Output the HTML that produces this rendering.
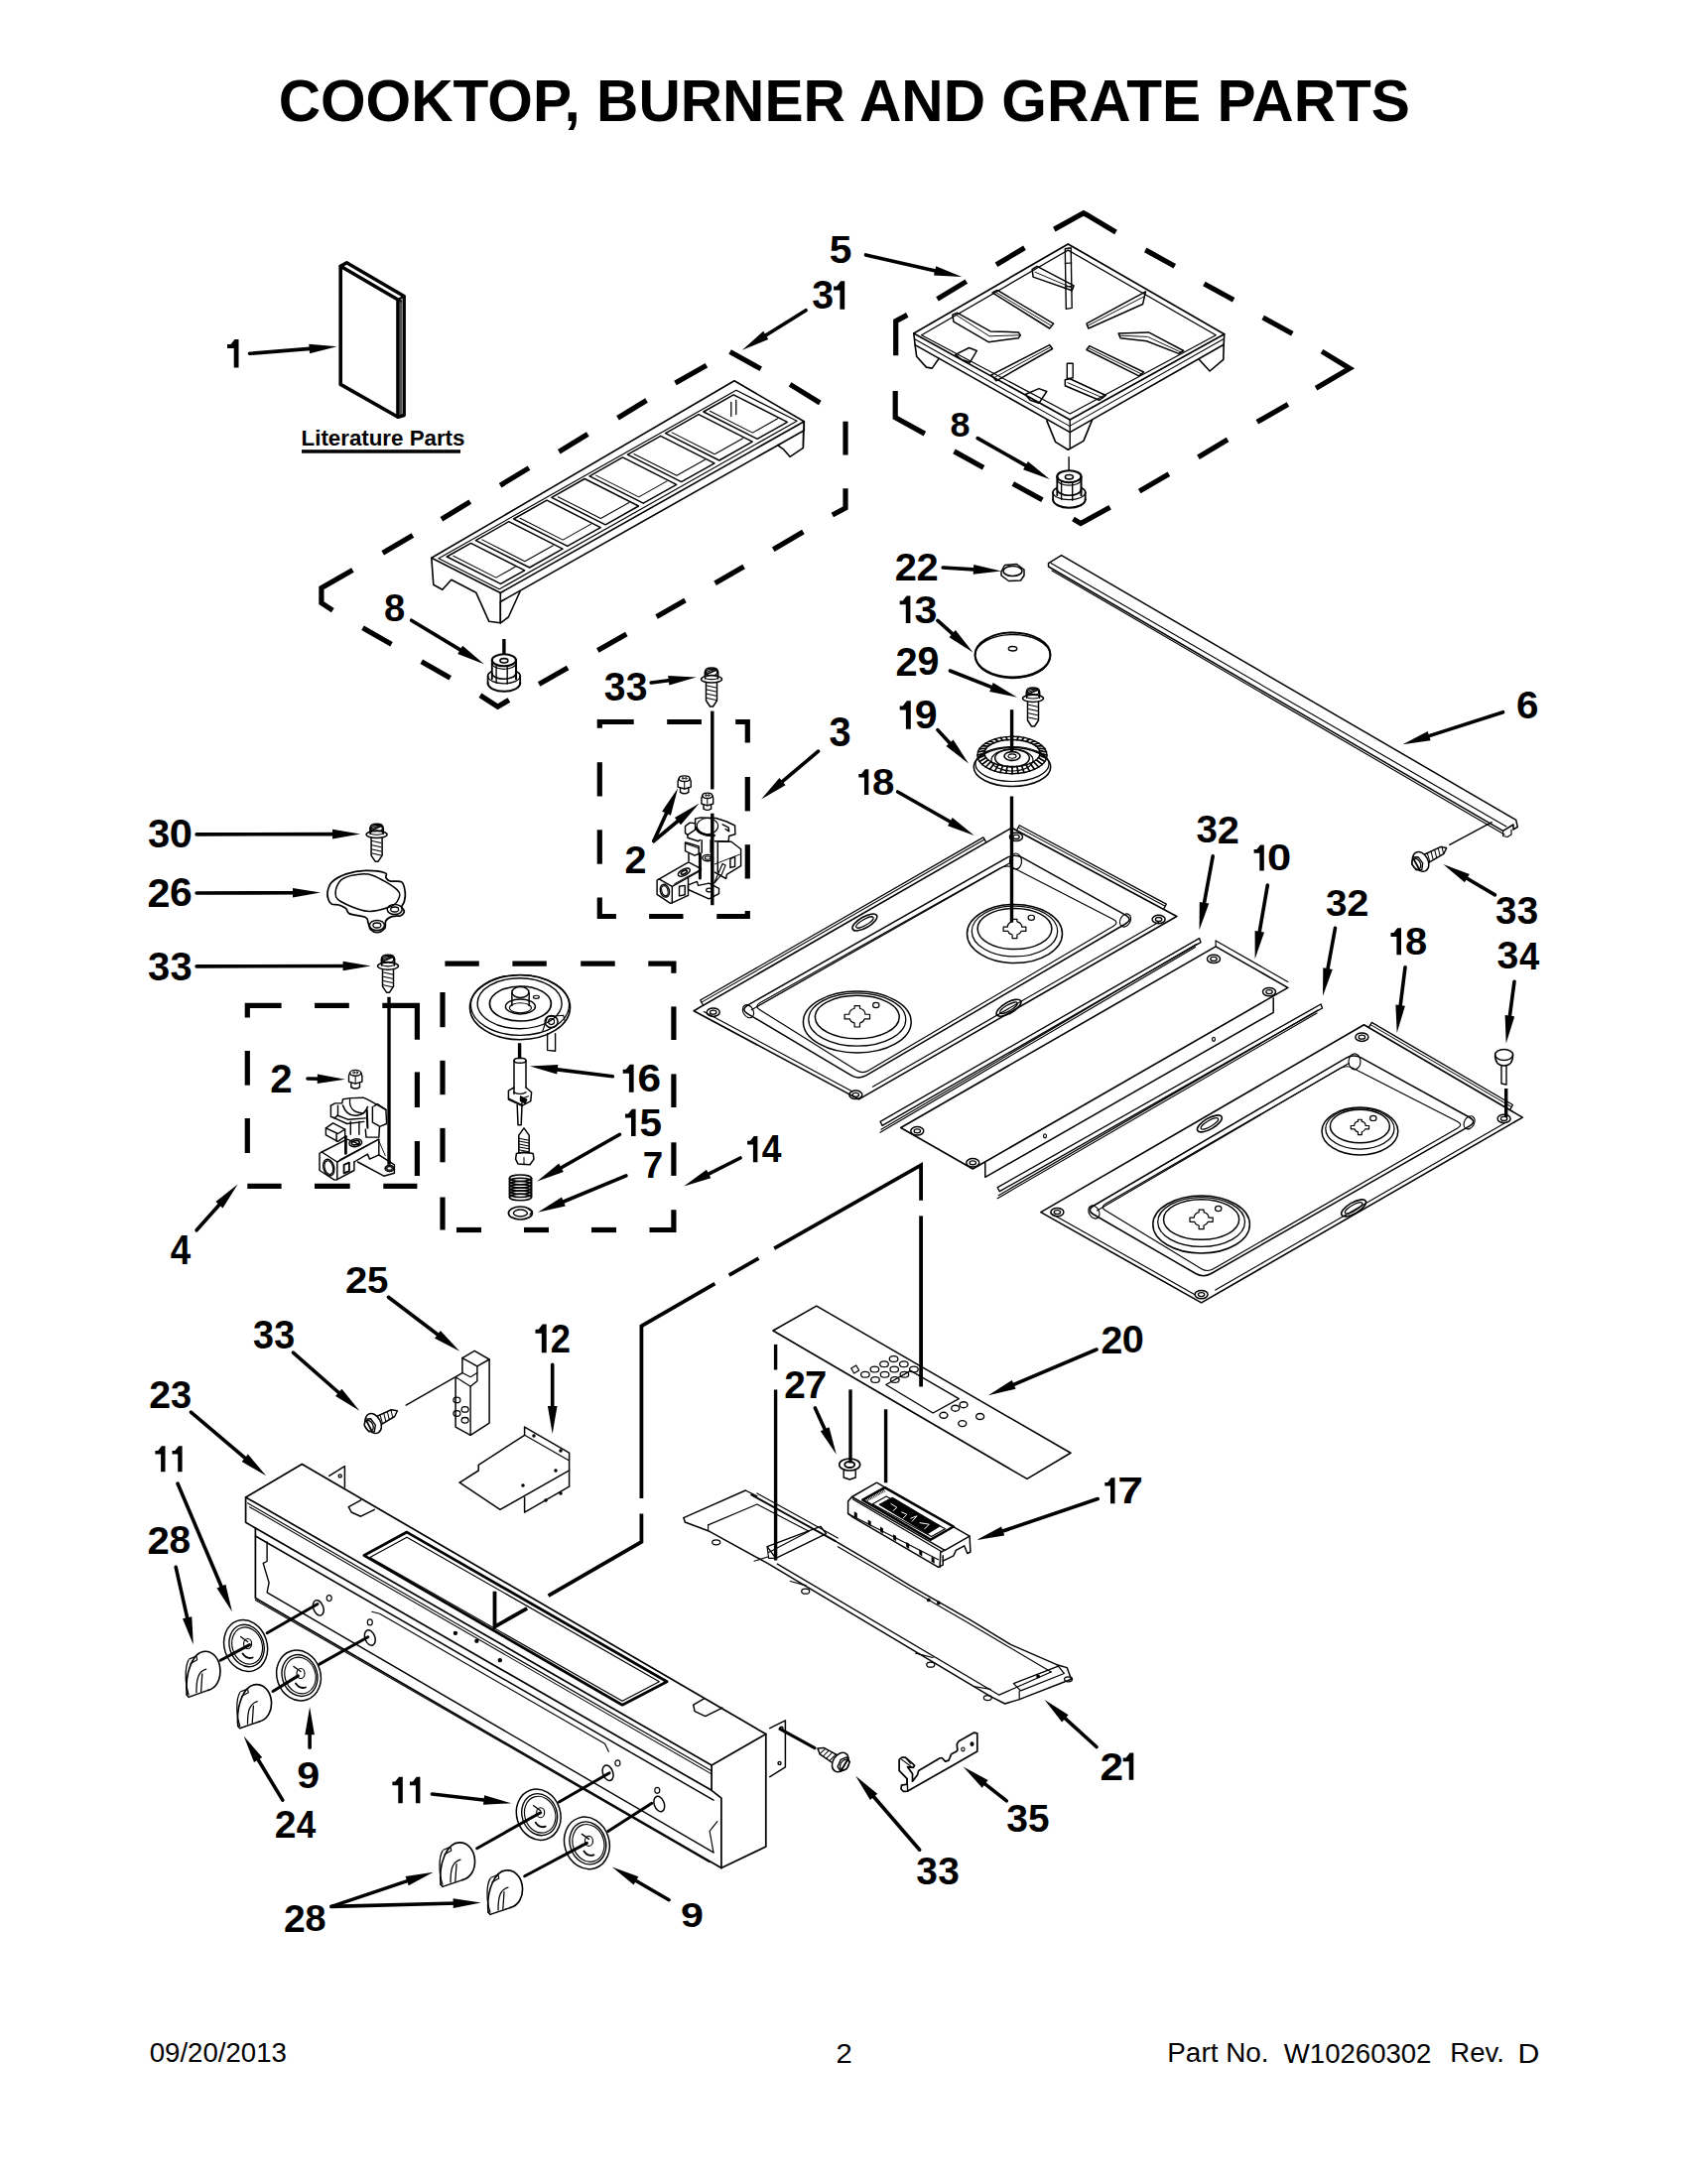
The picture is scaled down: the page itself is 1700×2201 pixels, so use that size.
<!DOCTYPE html>
<html><head><meta charset="utf-8"><style>
html,body{margin:0;padding:0;background:#fff;}
svg{display:block;}
text{font-family:"Liberation Sans",sans-serif;fill:#000;stroke:none;}
</style></head><body>
<svg width="1700" height="2201" viewBox="0 0 1700 2201">
<rect width="1700" height="2201" fill="#fff"/>
<g stroke="#000" fill="none" stroke-linejoin="round" stroke-linecap="round">
<text transform="matrix(0.58647 0 0 0.59649 280.65 122.25)" font-size="100" font-weight="bold">COOKTOP, BURNER AND GRATE PARTS</text>
<text transform="matrix(0.27622 0 0 0.26803 150.70 2078.33)" font-size="100" >09/20/2013</text>
<text transform="matrix(0.29231 0 0 0.28429 842.44 2078.90)" font-size="100" >2</text>
<text transform="matrix(0.27897 0 0 0.28000 1176.27 2078.32)" font-size="100" >Part No.</text>
<text transform="matrix(0.27554 0 0 0.28028 1293.86 2078.62)" font-size="100" >W10260302</text>
<text transform="matrix(0.27514 0 0 0.28000 1461.30 2078.32)" font-size="100" >Rev.</text>
<text transform="matrix(0.30252 0 0 0.28406 1529.58 2078.60)" font-size="100" >D</text>
<text transform="matrix(0.22320 0 0 0.22449 303.55 448.98)" font-size="100" font-weight="bold">Literature Parts</text>
<rect x="304" y="453.2" width="160" height="3.5" fill="#000" stroke="none"/>
<polygon points="236.5,342.0 240.5,342.0 240.5,370.5 235.7,370.5 235.7,351.1 229.0,351.1 229.0,347.1 232.5,347.1" fill="#000" stroke="none"/>
<text transform="matrix(0.39313 0 0 0.40141 818.22 311.40)" font-size="100" font-weight="bold">3</text>
<polygon points="847.2,283.3 851.2,283.3 851.2,311.8 846.4,311.8 846.4,292.4 840.1,292.4 840.1,288.4 843.2,288.4" fill="#000" stroke="none"/>
<text transform="matrix(0.40800 0 0 0.39429 835.68 264.51)" font-size="100" font-weight="bold">5</text>
<text transform="matrix(0.35960 0 0 0.35493 957.42 439.75)" font-size="100" font-weight="bold">8</text>
<text transform="matrix(0.38182 0 0 0.39014 387.05 626.11)" font-size="100" font-weight="bold">8</text>
<text transform="matrix(0.39117 0 0 0.41127 608.72 705.79)" font-size="100" font-weight="bold">3</text>
<text transform="matrix(0.39117 0 0 0.41127 630.86 705.79)" font-size="100" font-weight="bold">3</text>
<text transform="matrix(0.39873 0 0 0.39429 901.70 584.50)" font-size="100" font-weight="bold">2</text>
<text transform="matrix(0.39873 0 0 0.39429 923.47 584.50)" font-size="100" font-weight="bold">2</text>
<polygon points="913.6,600.5 917.4,600.5 917.4,628.0 912.8,628.0 912.8,609.3 906.7,609.3 906.7,605.5 909.7,605.5" fill="#000" stroke="none"/>
<text transform="matrix(0.41313 0 0 0.38732 921.62 627.61)" font-size="100" font-weight="bold">3</text>
<text transform="matrix(0.39784 0 0 0.40714 902.61 680.50)" font-size="100" font-weight="bold">2</text>
<text transform="matrix(0.39374 0 0 0.40141 924.43 680.10)" font-size="100" font-weight="bold">9</text>
<polygon points="913.8,706.3 917.8,706.3 917.8,734.7 912.9,734.7 912.9,715.4 906.7,715.4 906.7,711.4 909.8,711.4" fill="#000" stroke="none"/>
<text transform="matrix(0.41089 0 0 0.40000 921.73 734.30)" font-size="100" font-weight="bold">9</text>
<polygon points="871.7,775.3 875.3,775.3 875.3,801.0 871.0,801.0 871.0,783.5 865.3,783.5 865.3,779.9 868.1,779.9" fill="#000" stroke="none"/>
<text transform="matrix(0.40190 0 0 0.36197 879.00 800.64)" font-size="100" font-weight="bold">8</text>
<text transform="matrix(0.39798 0 0 0.42535 835.61 752.27)" font-size="100" font-weight="bold">3</text>
<text transform="matrix(0.40412 0 0 0.39014 1527.89 723.81)" font-size="100" font-weight="bold">6</text>
<text transform="matrix(0.38645 0 0 0.39155 1507.03 930.91)" font-size="100" font-weight="bold">3</text>
<text transform="matrix(0.38645 0 0 0.39155 1528.80 930.91)" font-size="100" font-weight="bold">3</text>
<text transform="matrix(0.38554 0 0 0.39014 1205.54 849.31)" font-size="100" font-weight="bold">3</text>
<text transform="matrix(0.39759 0 0 0.39571 1226.82 849.70)" font-size="100" font-weight="bold">2</text>
<polygon points="1270.1,851.4 1273.8,851.4 1273.8,877.5 1269.3,877.5 1269.3,859.8 1263.6,859.8 1263.6,856.1 1266.5,856.1" fill="#000" stroke="none"/>
<text transform="matrix(0.43499 0 0 0.36761 1277.00 877.13)" font-size="100" font-weight="bold">0</text>
<text transform="matrix(0.38607 0 0 0.36761 1336.03 922.73)" font-size="100" font-weight="bold">3</text>
<text transform="matrix(0.39813 0 0 0.37286 1357.20 923.10)" font-size="100" font-weight="bold">2</text>
<polygon points="1408.2,935.3 1412.0,935.3 1412.0,962.2 1407.4,962.2 1407.4,943.9 1401.5,943.9 1401.5,940.1 1404.5,940.1" fill="#000" stroke="none"/>
<text transform="matrix(0.39794 0 0 0.37887 1415.91 961.82)" font-size="100" font-weight="bold">8</text>
<text transform="matrix(0.39328 0 0 0.38028 1508.42 976.42)" font-size="100" font-weight="bold">3</text>
<text transform="matrix(0.36388 0 0 0.39130 1530.89 976.80)" font-size="100" font-weight="bold">4</text>
<text transform="matrix(0.39992 0 0 0.40141 148.90 854.40)" font-size="100" font-weight="bold">3</text>
<text transform="matrix(0.41676 0 0 0.40141 170.74 854.40)" font-size="100" font-weight="bold">0</text>
<text transform="matrix(0.41252 0 0 0.40571 148.46 913.80)" font-size="100" font-weight="bold">2</text>
<text transform="matrix(0.40827 0 0 0.40000 170.97 913.40)" font-size="100" font-weight="bold">6</text>
<text transform="matrix(0.39992 0 0 0.40141 148.90 988.10)" font-size="100" font-weight="bold">3</text>
<text transform="matrix(0.39992 0 0 0.40141 171.40 988.10)" font-size="100" font-weight="bold">3</text>
<text transform="matrix(0.39583 0 0 0.39000 629.61 879.60)" font-size="100" font-weight="bold">2</text>
<text transform="matrix(0.40208 0 0 0.40286 272.29 1101.20)" font-size="100" font-weight="bold">2</text>
<polygon points="634.7,1072.8 638.6,1072.8 638.6,1100.8 633.9,1100.8 633.9,1081.8 627.7,1081.8 627.7,1077.8 630.8,1077.8" fill="#000" stroke="none"/>
<text transform="matrix(0.42392 0 0 0.39437 642.46 1100.41)" font-size="100" font-weight="bold">6</text>
<polygon points="636.8,1117.7 640.6,1117.7 640.6,1144.9 636.0,1144.9 636.0,1126.4 630.0,1126.4 630.0,1122.6 633.0,1122.6" fill="#000" stroke="none"/>
<text transform="matrix(0.40448 0 0 0.38857 644.56 1144.51)" font-size="100" font-weight="bold">5</text>
<text transform="matrix(0.36774 0 0 0.37101 647.65 1187.00)" font-size="100" font-weight="bold">7</text>
<polygon points="759.7,1145.0 763.4,1145.0 763.4,1171.3 758.9,1171.3 758.9,1153.4 753.1,1153.4 753.1,1149.7 756.0,1149.7" fill="#000" stroke="none"/>
<text transform="matrix(0.35413 0 0 0.38116 767.82 1171.30)" font-size="100" font-weight="bold">4</text>
<text transform="matrix(0.36636 0 0 0.42029 171.65 1274.00)" font-size="100" font-weight="bold">4</text>
<text transform="matrix(0.40041 0 0 0.37000 348.00 1303.20)" font-size="100" font-weight="bold">2</text>
<text transform="matrix(0.38440 0 0 0.37000 369.93 1302.83)" font-size="100" font-weight="bold">5</text>
<text transform="matrix(0.37751 0 0 0.40423 254.96 1358.70)" font-size="100" font-weight="bold">3</text>
<text transform="matrix(0.37751 0 0 0.40423 276.37 1358.70)" font-size="100" font-weight="bold">3</text>
<polygon points="546.7,1334.5 550.7,1334.5 550.7,1363.2 545.8,1363.2 545.8,1343.7 539.5,1343.7 539.5,1339.7 542.7,1339.7" fill="#000" stroke="none"/>
<text transform="matrix(0.36362 0 0 0.41000 554.87 1363.20)" font-size="100" font-weight="bold">2</text>
<text transform="matrix(0.39278 0 0 0.39000 150.13 1419.10)" font-size="100" font-weight="bold">2</text>
<text transform="matrix(0.38087 0 0 0.38451 171.99 1418.72)" font-size="100" font-weight="bold">3</text>
<polygon points="162.9,1457.3 166.5,1457.3 166.5,1483.2 162.1,1483.2 162.1,1465.6 156.4,1465.6 156.4,1462.0 159.2,1462.0" fill="#000" stroke="none"/>
<polygon points="180.0,1457.3 183.6,1457.3 183.6,1483.2 179.2,1483.2 179.2,1465.6 173.5,1465.6 173.5,1462.0 176.3,1462.0" fill="#000" stroke="none"/>
<text transform="matrix(0.40101 0 0 0.39143 148.40 1565.60)" font-size="100" font-weight="bold">2</text>
<text transform="matrix(0.38886 0 0 0.38592 170.48 1565.21)" font-size="100" font-weight="bold">8</text>
<text transform="matrix(0.38786 0 0 0.38571 790.24 1408.90)" font-size="100" font-weight="bold">2</text>
<text transform="matrix(0.40038 0 0 0.39130 810.98 1408.90)" font-size="100" font-weight="bold">7</text>
<text transform="matrix(0.39278 0 0 0.39000 1109.53 1363.50)" font-size="100" font-weight="bold">2</text>
<text transform="matrix(0.39691 0 0 0.38451 1130.76 1363.12)" font-size="100" font-weight="bold">0</text>
<polygon points="1119.8,1489.2 1123.5,1489.2 1123.5,1515.3 1119.0,1515.3 1119.0,1497.6 1113.3,1497.6 1113.3,1493.9 1116.2,1493.9" fill="#000" stroke="none"/>
<text transform="matrix(0.46370 0 0 0.37826 1126.35 1515.30)" font-size="100" font-weight="bold">7</text>
<text transform="matrix(0.41237 0 0 0.37606 299.26 1802.32)" font-size="100" font-weight="bold">9</text>
<text transform="matrix(0.39034 0 0 0.38000 276.63 1852.00)" font-size="100" font-weight="bold">2</text>
<text transform="matrix(0.35021 0 0 0.38551 298.74 1852.00)" font-size="100" font-weight="bold">4</text>
<polygon points="402.0,1790.7 405.8,1790.7 405.8,1817.3 401.3,1817.3 401.3,1799.2 395.4,1799.2 395.4,1795.5 398.3,1795.5" fill="#000" stroke="none"/>
<polygon points="419.7,1790.7 423.4,1790.7 423.4,1817.3 418.9,1817.3 418.9,1799.2 413.0,1799.2 413.0,1795.5 416.0,1795.5" fill="#000" stroke="none"/>
<text transform="matrix(0.42358 0 0 0.38857 1108.52 1793.70)" font-size="100" font-weight="bold">2</text>
<polygon points="1138.5,1766.5 1142.3,1766.5 1142.3,1793.7 1137.7,1793.7 1137.7,1775.2 1131.7,1775.2 1131.7,1771.4 1134.7,1771.4" fill="#000" stroke="none"/>
<text transform="matrix(0.39107 0 0 0.38310 1014.32 1845.72)" font-size="100" font-weight="bold">3</text>
<text transform="matrix(0.38716 0 0 0.38857 1036.08 1845.71)" font-size="100" font-weight="bold">5</text>
<text transform="matrix(0.38910 0 0 0.39718 923.23 1899.10)" font-size="100" font-weight="bold">3</text>
<text transform="matrix(0.38910 0 0 0.39718 945.17 1899.10)" font-size="100" font-weight="bold">3</text>
<text transform="matrix(0.39024 0 0 0.38143 285.93 1946.70)" font-size="100" font-weight="bold">2</text>
<text transform="matrix(0.37842 0 0 0.37606 307.43 1946.32)" font-size="100" font-weight="bold">8</text>
<text transform="matrix(0.41237 0 0 0.35634 685.96 1942.34)" font-size="100" font-weight="bold">9</text>
<line x1="251.6" y1="356.3" x2="315.7" y2="351.1" stroke-width="3.6"/>
<polygon points="339.6,349.2 312.1,356.2 311.3,346.7" fill="#000" stroke="none"/>
<line x1="812.1" y1="312.7" x2="768.4" y2="340.0" stroke-width="3.6"/>
<polygon points="748.0,352.7 769.2,333.8 774.3,341.9" fill="#000" stroke="none"/>
<line x1="872.5" y1="256.9" x2="946.0" y2="273.7" stroke-width="3.6"/>
<polygon points="969.4,279.1 941.0,277.5 943.2,268.2" fill="#000" stroke="none"/>
<line x1="985.2" y1="441.6" x2="1037.0" y2="471.1" stroke-width="3.6"/>
<polygon points="1057.8,483.0 1031.1,473.3 1035.9,465.0" fill="#000" stroke="none"/>
<line x1="414.6" y1="625.2" x2="467.1" y2="656.9" stroke-width="3.6"/>
<polygon points="487.7,669.3 461.2,658.9 466.2,650.7" fill="#000" stroke="none"/>
<line x1="656.2" y1="688.0" x2="677.8" y2="685.3" stroke-width="3.6"/>
<polygon points="701.6,682.4 674.4,690.6 673.2,681.1" fill="#000" stroke="none"/>
<line x1="950.2" y1="572.0" x2="984.9" y2="574.1" stroke-width="3.6"/>
<polygon points="1008.9,575.6 980.7,578.7 981.2,569.1" fill="#000" stroke="none"/>
<line x1="944.9" y1="625.4" x2="962.7" y2="641.4" stroke-width="3.6"/>
<polygon points="980.5,657.4 956.5,642.3 962.9,635.1" fill="#000" stroke="none"/>
<line x1="957.4" y1="676.0" x2="1002.7" y2="693.9" stroke-width="3.6"/>
<polygon points="1025.0,702.7 997.2,696.9 1000.7,687.9" fill="#000" stroke="none"/>
<line x1="944.9" y1="735.6" x2="959.7" y2="751.7" stroke-width="3.6"/>
<polygon points="976.0,769.4 953.5,752.0 960.6,745.5" fill="#000" stroke="none"/>
<line x1="904.6" y1="798.0" x2="960.8" y2="830.0" stroke-width="3.6"/>
<polygon points="981.7,841.9 955.0,832.2 959.7,823.9" fill="#000" stroke="none"/>
<line x1="824.5" y1="757.2" x2="785.4" y2="790.1" stroke-width="3.6"/>
<polygon points="767.1,805.6 785.4,783.9 791.6,791.2" fill="#000" stroke="none"/>
<line x1="1514.6" y1="717.7" x2="1436.3" y2="742.9" stroke-width="3.6"/>
<polygon points="1413.5,750.3 1438.7,737.1 1441.6,746.3" fill="#000" stroke="none"/>
<line x1="1506.5" y1="901.9" x2="1474.9" y2="883.2" stroke-width="3.6"/>
<polygon points="1454.3,870.9 1480.8,881.1 1475.9,889.3" fill="#000" stroke="none"/>
<line x1="1222.2" y1="862.8" x2="1212.8" y2="913.7" stroke-width="3.6"/>
<polygon points="1208.5,937.3 1208.8,908.9 1218.3,910.6" fill="#000" stroke="none"/>
<line x1="1277.3" y1="892.1" x2="1268.6" y2="942.7" stroke-width="3.6"/>
<polygon points="1264.6,966.4 1264.6,938.0 1274.0,939.6" fill="#000" stroke="none"/>
<line x1="1345.5" y1="935.3" x2="1337.3" y2="980.1" stroke-width="3.6"/>
<polygon points="1333.0,1003.7 1333.3,975.3 1342.8,977.0" fill="#000" stroke="none"/>
<line x1="1416.0" y1="974.7" x2="1410.7" y2="1017.2" stroke-width="3.6"/>
<polygon points="1407.7,1041.0 1406.4,1012.6 1415.9,1013.8" fill="#000" stroke="none"/>
<line x1="1526.0" y1="989.2" x2="1520.9" y2="1027.7" stroke-width="3.6"/>
<polygon points="1517.7,1051.5 1516.6,1023.1 1526.2,1024.4" fill="#000" stroke="none"/>
<line x1="198.1" y1="840.9" x2="339.0" y2="840.6" stroke-width="3.6"/>
<polygon points="363.0,840.5 335.0,845.4 335.0,835.8" fill="#000" stroke="none"/>
<line x1="198.1" y1="900.0" x2="299.0" y2="899.7" stroke-width="3.6"/>
<polygon points="323.0,899.6 295.0,904.5 295.0,894.9" fill="#000" stroke="none"/>
<line x1="198.1" y1="973.9" x2="349.6" y2="973.5" stroke-width="3.6"/>
<polygon points="373.6,973.4 345.6,978.3 345.6,968.7" fill="#000" stroke="none"/>
<line x1="658.8" y1="847.6" x2="673.2" y2="816.0" stroke-width="3.6"/>
<polygon points="683.1,794.2 675.9,821.7 667.1,817.7" fill="#000" stroke="none"/>
<line x1="658.8" y1="847.6" x2="686.0" y2="825.0" stroke-width="3.6"/>
<polygon points="704.5,809.7 686.0,831.3 679.9,823.9" fill="#000" stroke="none"/>
<line x1="310.0" y1="1087.0" x2="323.8" y2="1087.3" stroke-width="3.6"/>
<polygon points="347.8,1087.8 319.7,1092.0 319.9,1082.4" fill="#000" stroke="none"/>
<line x1="617.3" y1="1084.8" x2="557.8" y2="1077.4" stroke-width="3.6"/>
<polygon points="534.0,1074.4 562.4,1073.1 561.2,1082.6" fill="#000" stroke="none"/>
<line x1="624.5" y1="1143.3" x2="562.1" y2="1178.7" stroke-width="3.6"/>
<polygon points="541.2,1190.5 563.2,1172.5 567.9,1180.9" fill="#000" stroke="none"/>
<line x1="630.9" y1="1184.9" x2="564.2" y2="1212.5" stroke-width="3.6"/>
<polygon points="542.0,1221.7 566.0,1206.6 569.7,1215.4" fill="#000" stroke="none"/>
<line x1="746.0" y1="1167.0" x2="710.6" y2="1184.8" stroke-width="3.6"/>
<polygon points="689.1,1195.5 712.0,1178.7 716.3,1187.3" fill="#000" stroke="none"/>
<line x1="198.1" y1="1239.8" x2="223.6" y2="1211.3" stroke-width="3.6"/>
<polygon points="239.6,1193.4 224.5,1217.5 217.4,1211.1" fill="#000" stroke="none"/>
<line x1="391.4" y1="1307.3" x2="444.1" y2="1347.3" stroke-width="3.6"/>
<polygon points="463.2,1361.8 438.0,1348.7 443.8,1341.0" fill="#000" stroke="none"/>
<line x1="295.4" y1="1363.2" x2="344.2" y2="1406.0" stroke-width="3.6"/>
<polygon points="362.3,1421.8 338.1,1407.0 344.4,1399.7" fill="#000" stroke="none"/>
<line x1="556.7" y1="1375.4" x2="556.7" y2="1421.0" stroke-width="3.6"/>
<polygon points="556.7,1445.0 551.9,1417.0 561.5,1417.0" fill="#000" stroke="none"/>
<line x1="192.4" y1="1423.2" x2="249.9" y2="1471.8" stroke-width="3.6"/>
<polygon points="268.2,1487.3 243.7,1472.9 249.9,1465.6" fill="#000" stroke="none"/>
<line x1="179.1" y1="1495.2" x2="224.5" y2="1602.2" stroke-width="3.6"/>
<polygon points="233.9,1624.3 218.5,1600.4 227.4,1596.7" fill="#000" stroke="none"/>
<line x1="177.2" y1="1579.3" x2="189.5" y2="1634.2" stroke-width="3.6"/>
<polygon points="194.8,1657.6 184.0,1631.3 193.3,1629.2" fill="#000" stroke="none"/>
<line x1="821.4" y1="1418.9" x2="832.8" y2="1444.0" stroke-width="3.6"/>
<polygon points="842.8,1465.8 826.8,1442.3 835.5,1438.3" fill="#000" stroke="none"/>
<line x1="1105.0" y1="1360.0" x2="1018.0" y2="1396.8" stroke-width="3.6"/>
<polygon points="995.9,1406.2 1019.8,1390.9 1023.6,1399.7" fill="#000" stroke="none"/>
<line x1="1106.2" y1="1510.5" x2="1006.8" y2="1544.3" stroke-width="3.6"/>
<polygon points="984.1,1552.0 1009.1,1538.4 1012.2,1547.5" fill="#000" stroke="none"/>
<line x1="312.1" y1="1761.3" x2="312.1" y2="1744.2" stroke-width="3.6"/>
<polygon points="312.1,1720.2 316.9,1748.2 307.3,1748.2" fill="#000" stroke="none"/>
<line x1="284.8" y1="1814.1" x2="258.1" y2="1770.0" stroke-width="3.6"/>
<polygon points="245.6,1749.5 264.2,1770.9 256.0,1775.9" fill="#000" stroke="none"/>
<line x1="435.4" y1="1808.0" x2="491.6" y2="1814.5" stroke-width="3.6"/>
<polygon points="515.4,1817.3 487.0,1818.8 488.1,1809.3" fill="#000" stroke="none"/>
<line x1="1105.0" y1="1760.5" x2="1070.4" y2="1729.2" stroke-width="3.6"/>
<polygon points="1052.6,1713.1 1076.6,1728.3 1070.1,1735.4" fill="#000" stroke="none"/>
<line x1="1014.3" y1="1814.9" x2="989.5" y2="1795.4" stroke-width="3.6"/>
<polygon points="970.6,1780.6 995.6,1794.1 989.7,1801.7" fill="#000" stroke="none"/>
<line x1="926.7" y1="1864.2" x2="877.9" y2="1807.8" stroke-width="3.6"/>
<polygon points="862.2,1789.7 884.2,1807.7 876.9,1814.0" fill="#000" stroke="none"/>
<line x1="334.0" y1="1921.4" x2="414.0" y2="1894.4" stroke-width="3.6"/>
<polygon points="436.7,1886.7 411.7,1900.2 408.6,1891.1" fill="#000" stroke="none"/>
<line x1="334.0" y1="1921.4" x2="460.7" y2="1918.0" stroke-width="3.6"/>
<polygon points="484.7,1917.4 456.8,1922.9 456.6,1913.3" fill="#000" stroke="none"/>
<line x1="674.1" y1="1914.7" x2="637.6" y2="1893.5" stroke-width="3.6"/>
<polygon points="616.8,1881.4 643.4,1891.3 638.6,1899.6" fill="#000" stroke="none"/>
<polyline points="711.9,368.3 680.5,385.9" stroke-width="5.2" fill="none" stroke-linejoin="miter" stroke-linecap="butt"/>
<polyline points="651.5,403.5 622.5,421.2" stroke-width="5.2" fill="none" stroke-linejoin="miter" stroke-linecap="butt"/>
<polyline points="592.3,437.5 563.3,455.2" stroke-width="5.2" fill="none" stroke-linejoin="miter" stroke-linecap="butt"/>
<polyline points="533.0,471.6 504.1,489.2" stroke-width="5.2" fill="none" stroke-linejoin="miter" stroke-linecap="butt"/>
<polyline points="473.8,505.6 444.9,523.2" stroke-width="5.2" fill="none" stroke-linejoin="miter" stroke-linecap="butt"/>
<polyline points="415.9,539.6 385.7,557.2" stroke-width="5.2" fill="none" stroke-linejoin="miter" stroke-linecap="butt"/>
<polyline points="355.4,574.4 323.9,592.5 323.9,607.6 335.3,615.2" stroke-width="5.2" fill="none" stroke-linejoin="miter" stroke-linecap="butt"/>
<polyline points="365.5,632.8 394.5,649.2" stroke-width="5.2" fill="none" stroke-linejoin="miter" stroke-linecap="butt"/>
<polyline points="424.7,666.8 453.7,683.2" stroke-width="5.2" fill="none" stroke-linejoin="miter" stroke-linecap="butt"/>
<polyline points="483.9,700.8 501.6,712.2 512.9,705.4" stroke-width="5.2" fill="none" stroke-linejoin="miter" stroke-linecap="butt"/>
<polyline points="543.1,689.5 572.1,673.1" stroke-width="5.2" fill="none" stroke-linejoin="miter" stroke-linecap="butt"/>
<polyline points="602.3,655.5 631.3,639.1" stroke-width="5.2" fill="none" stroke-linejoin="miter" stroke-linecap="butt"/>
<polyline points="661.6,621.5 690.5,605.1" stroke-width="5.2" fill="none" stroke-linejoin="miter" stroke-linecap="butt"/>
<polyline points="720.6,587.8 749.6,570.9" stroke-width="5.2" fill="none" stroke-linejoin="miter" stroke-linecap="butt"/>
<polyline points="779.2,553.7 809.4,535.9" stroke-width="5.2" fill="none" stroke-linejoin="miter" stroke-linecap="butt"/>
<polyline points="838.8,519.0 852.0,512.0 852.0,492.3" stroke-width="5.2" fill="none" stroke-linejoin="miter" stroke-linecap="butt"/>
<polyline points="852.0,458.5 852.0,424.7" stroke-width="5.2" fill="none" stroke-linejoin="miter" stroke-linecap="butt"/>
<polyline points="826.3,406.0 796.1,387.4" stroke-width="5.2" fill="none" stroke-linejoin="miter" stroke-linecap="butt"/>
<polyline points="766.7,371.7 735.6,354.5" stroke-width="5.2" fill="none" stroke-linejoin="miter" stroke-linecap="butt"/>
<polyline points="1062.3,231.1 1091.9,214.8 1094.9,216.3 1124.5,234.1" stroke-width="5.2" fill="none" stroke-linejoin="miter" stroke-linecap="butt"/>
<polyline points="1032.5,249.8 1004.0,266.7" stroke-width="5.2" fill="none" stroke-linejoin="miter" stroke-linecap="butt"/>
<polyline points="973.8,283.6 944.5,301.4" stroke-width="5.2" fill="none" stroke-linejoin="miter" stroke-linecap="butt"/>
<polyline points="914.3,317.4 902.7,323.6 902.7,358.3" stroke-width="5.2" fill="none" stroke-linejoin="miter" stroke-linecap="butt"/>
<polyline points="902.2,394.1 902.2,420.8 931.9,437.1" stroke-width="5.2" fill="none" stroke-linejoin="miter" stroke-linecap="butt"/>
<polyline points="961.5,454.9 991.1,471.2" stroke-width="5.2" fill="none" stroke-linejoin="miter" stroke-linecap="butt"/>
<polyline points="1020.8,487.5 1050.4,503.8" stroke-width="5.2" fill="none" stroke-linejoin="miter" stroke-linecap="butt"/>
<polyline points="1081.5,523.0 1089.0,527.5 1118.6,511.2" stroke-width="5.2" fill="none" stroke-linejoin="miter" stroke-linecap="butt"/>
<polyline points="1148.2,494.9 1177.9,477.8" stroke-width="5.2" fill="none" stroke-linejoin="miter" stroke-linecap="butt"/>
<polyline points="1207.5,460.8 1237.1,443.0" stroke-width="5.2" fill="none" stroke-linejoin="miter" stroke-linecap="butt"/>
<polyline points="1266.8,425.3 1297.9,407.5" stroke-width="5.2" fill="none" stroke-linejoin="miter" stroke-linecap="butt"/>
<polyline points="1326.1,391.2 1360.1,371.3 1332.0,354.1" stroke-width="5.2" fill="none" stroke-linejoin="miter" stroke-linecap="butt"/>
<polyline points="1302.3,336.3 1272.7,320.0" stroke-width="5.2" fill="none" stroke-linejoin="miter" stroke-linecap="butt"/>
<polyline points="1243.1,302.3 1213.4,286.0" stroke-width="5.2" fill="none" stroke-linejoin="miter" stroke-linecap="butt"/>
<polyline points="1183.8,268.2 1154.2,251.9" stroke-width="5.2" fill="none" stroke-linejoin="miter" stroke-linecap="butt"/>
<polyline points="604.3,733.8 604.3,727.5 638.7,727.5" stroke-width="5.2" fill="none" stroke-linejoin="miter" stroke-linecap="butt"/>
<polyline points="672.2,727.5 706.9,727.5" stroke-width="5.2" fill="none" stroke-linejoin="miter" stroke-linecap="butt"/>
<polyline points="741.2,727.5 753.3,727.5 753.3,748.6" stroke-width="5.2" fill="none" stroke-linejoin="miter" stroke-linecap="butt"/>
<polyline points="604.3,768.2 604.3,802.5" stroke-width="5.2" fill="none" stroke-linejoin="miter" stroke-linecap="butt"/>
<polyline points="604.3,836.3 604.3,870.7" stroke-width="5.2" fill="none" stroke-linejoin="miter" stroke-linecap="butt"/>
<polyline points="604.3,904.5 604.3,923.5 620.9,923.5" stroke-width="5.2" fill="none" stroke-linejoin="miter" stroke-linecap="butt"/>
<polyline points="753.3,783.0 753.3,817.4" stroke-width="5.2" fill="none" stroke-linejoin="miter" stroke-linecap="butt"/>
<polyline points="753.3,851.2 753.3,885.5" stroke-width="5.2" fill="none" stroke-linejoin="miter" stroke-linecap="butt"/>
<polyline points="753.3,918.0 753.3,923.5 722.3,923.5" stroke-width="5.2" fill="none" stroke-linejoin="miter" stroke-linecap="butt"/>
<polyline points="654.1,923.5 688.5,923.5" stroke-width="5.2" fill="none" stroke-linejoin="miter" stroke-linecap="butt"/>
<polyline points="249.3,1025.6 249.3,1013.4 283.6,1013.4" stroke-width="5.2" fill="none" stroke-linejoin="miter" stroke-linecap="butt"/>
<polyline points="317.1,1013.4 351.8,1013.4" stroke-width="5.2" fill="none" stroke-linejoin="miter" stroke-linecap="butt"/>
<polyline points="385.3,1013.4 420.4,1013.4 420.4,1047.8" stroke-width="5.2" fill="none" stroke-linejoin="miter" stroke-linecap="butt"/>
<polyline points="249.3,1059.0 249.3,1093.7" stroke-width="5.2" fill="none" stroke-linejoin="miter" stroke-linecap="butt"/>
<polyline points="249.3,1127.0 249.3,1162.0" stroke-width="5.2" fill="none" stroke-linejoin="miter" stroke-linecap="butt"/>
<polyline points="249.3,1195.3 283.6,1195.3" stroke-width="5.2" fill="none" stroke-linejoin="miter" stroke-linecap="butt"/>
<polyline points="317.0,1195.3 352.7,1195.3" stroke-width="5.2" fill="none" stroke-linejoin="miter" stroke-linecap="butt"/>
<polyline points="386.3,1195.3 420.4,1195.3" stroke-width="5.2" fill="none" stroke-linejoin="miter" stroke-linecap="butt"/>
<polyline points="420.4,1080.4 420.4,1116.0" stroke-width="5.2" fill="none" stroke-linejoin="miter" stroke-linecap="butt"/>
<polyline points="420.4,1150.0 420.4,1185.0" stroke-width="5.2" fill="none" stroke-linejoin="miter" stroke-linecap="butt"/>
<polyline points="448.4,971.2 482.8,971.2" stroke-width="5.2" fill="none" stroke-linejoin="miter" stroke-linecap="butt"/>
<polyline points="516.4,971.2 550.8,971.2" stroke-width="5.2" fill="none" stroke-linejoin="miter" stroke-linecap="butt"/>
<polyline points="585.2,971.2 619.7,971.2" stroke-width="5.2" fill="none" stroke-linejoin="miter" stroke-linecap="butt"/>
<polyline points="653.3,971.2 678.9,971.2 678.9,980.8" stroke-width="5.2" fill="none" stroke-linejoin="miter" stroke-linecap="butt"/>
<polyline points="446.0,1000.0 446.0,1035.2" stroke-width="5.2" fill="none" stroke-linejoin="miter" stroke-linecap="butt"/>
<polyline points="446.0,1068.8 446.0,1103.2" stroke-width="5.2" fill="none" stroke-linejoin="miter" stroke-linecap="butt"/>
<polyline points="446.0,1136.9 446.0,1171.3" stroke-width="5.2" fill="none" stroke-linejoin="miter" stroke-linecap="butt"/>
<polyline points="446.0,1206.5 446.0,1239.5" stroke-width="5.2" fill="none" stroke-linejoin="miter" stroke-linecap="butt"/>
<polyline points="678.9,1014.4 678.9,1048.0" stroke-width="5.2" fill="none" stroke-linejoin="miter" stroke-linecap="butt"/>
<polyline points="678.9,1082.4 678.9,1116.0" stroke-width="5.2" fill="none" stroke-linejoin="miter" stroke-linecap="butt"/>
<polyline points="678.9,1151.3 678.9,1184.9" stroke-width="5.2" fill="none" stroke-linejoin="miter" stroke-linecap="butt"/>
<polyline points="678.9,1219.3 678.9,1239.5 654.5,1239.5" stroke-width="5.2" fill="none" stroke-linejoin="miter" stroke-linecap="butt"/>
<polyline points="460.0,1239.5 485.0,1239.5" stroke-width="5.2" fill="none" stroke-linejoin="miter" stroke-linecap="butt"/>
<polyline points="528.0,1239.5 553.0,1239.5" stroke-width="5.2" fill="none" stroke-linejoin="miter" stroke-linecap="butt"/>
<polyline points="596.0,1239.5 621.0,1239.5" stroke-width="5.2" fill="none" stroke-linejoin="miter" stroke-linecap="butt"/>
<polyline points="928.1,1209.8 928.1,1174.2 780.2,1258.1" stroke-width="3.8" fill="none" stroke-linejoin="miter" stroke-linecap="butt"/>
<polyline points="764.5,1268.1 734.7,1285.2" stroke-width="3.8" fill="none" stroke-linejoin="miter" stroke-linecap="butt"/>
<polyline points="720.4,1293.7 646.4,1336.4 646.4,1509.9" stroke-width="3.8" fill="none" stroke-linejoin="miter" stroke-linecap="butt"/>
<polyline points="646.4,1525.6 646.4,1554.0 552.6,1608.1" stroke-width="3.8" fill="none" stroke-linejoin="miter" stroke-linecap="butt"/>
<polyline points="928.1,1225.4 928.1,1397.5" stroke-width="3.8" fill="none" stroke-linejoin="miter" stroke-linecap="butt"/>
<polyline points="498.5,1603.8 498.5,1639.4 531.2,1620.9" stroke-width="3.8" fill="none" stroke-linejoin="miter" stroke-linecap="butt"/>
<polyline points="507.9,644.0 507.9,663.0" stroke-width="3.4" fill="none" stroke-linejoin="miter" stroke-linecap="butt"/>
<polyline points="717.8,716.6 717.8,795.4" stroke-width="3.4" fill="none" stroke-linejoin="miter" stroke-linecap="butt"/>
<polyline points="717.8,819.7 717.8,912.2" stroke-width="3.4" fill="none" stroke-linejoin="miter" stroke-linecap="butt"/>
<polyline points="1019.6,715.2 1019.6,757.9" stroke-width="3.4" fill="none" stroke-linejoin="miter" stroke-linecap="butt"/>
<polyline points="1019.5,802.5 1019.5,929.5" stroke-width="3.4" fill="none" stroke-linejoin="miter" stroke-linecap="butt"/>
<polyline points="392.0,1004.8 392.0,1173.8" stroke-width="3.4" fill="none" stroke-linejoin="miter" stroke-linecap="butt"/>
<polyline points="523.6,1051.2 523.6,1067.2" stroke-width="3.4" fill="none" stroke-linejoin="miter" stroke-linecap="butt"/>
<polyline points="1517.7,1097.0 1517.7,1126.0" stroke-width="3.4" fill="none" stroke-linejoin="miter" stroke-linecap="butt"/>
<polyline points="857.0,1400.4 857.0,1474.4" stroke-width="3.4" fill="none" stroke-linejoin="miter" stroke-linecap="butt"/>
<polyline points="781.6,1354.9 781.6,1380.5" stroke-width="3.4" fill="none" stroke-linejoin="miter" stroke-linecap="butt"/>
<polyline points="781.6,1400.4 781.6,1572.5" stroke-width="3.4" fill="none" stroke-linejoin="miter" stroke-linecap="butt"/>
<polyline points="892.6,1420.3 892.6,1494.3" stroke-width="3.4" fill="none" stroke-linejoin="miter" stroke-linecap="butt"/>
<line x1="1460.8" y1="851.4" x2="1503.2" y2="828.6" stroke-width="1.38"/>
<line x1="409.2" y1="1416.1" x2="458.1" y2="1388.2" stroke-width="1.38"/>
<line x1="1077.1" y1="460.8" x2="1077.1" y2="477.0" stroke-width="1.38"/>
<polygon points="343.2,268.2 401.0,302.0 401.0,420.3 343.2,387.4" stroke-width="3.60" fill="none"/>
<polyline points="343.2,268.2 349.4,264.7 407.2,298.5 407.2,418.5 401.0,420.3" stroke-width="3.40" fill="none"/>
<line x1="401.0" y1="302.0" x2="407.2" y2="298.5" stroke-width="2.30"/>
<line x1="346.5" y1="270.2" x2="404.5" y2="303.8" stroke-width="1.38"/>
<line x1="404.0" y1="302.5" x2="404.0" y2="419.5" stroke-width="1.38"/>
<polygon points="504.3,597.5 810.3,424.7 740.0,383.8 434.8,562.3" stroke-width="1.61" fill="none"/>
<polygon points="503.2,593.7 803.1,424.3 741.9,393.3 442.0,562.7" stroke-width="1.15" fill="none"/>
<polygon points="504.5,588.4 528.7,574.8 474.5,547.3 450.3,561.0" stroke-width="1.49" fill="none"/>
<polyline points="456.8,560.3 499.9,582.1 519.1,571.3" stroke-width="1.03" fill="none"/>
<polygon points="533.6,572.0 567.0,553.2 512.7,525.7 479.4,544.6" stroke-width="1.49" fill="none"/>
<polyline points="485.8,543.9 528.9,565.7 557.4,549.7" stroke-width="1.03" fill="none"/>
<polygon points="571.8,550.4 605.2,531.6 551.0,504.1 517.6,523.0" stroke-width="1.49" fill="none"/>
<polyline points="524.1,522.3 567.2,544.1 595.6,528.1" stroke-width="1.03" fill="none"/>
<polygon points="610.1,528.8 643.5,510.0 589.2,482.5 555.9,501.4" stroke-width="1.49" fill="none"/>
<polyline points="562.3,500.7 605.4,522.5 633.9,506.5" stroke-width="1.03" fill="none"/>
<polygon points="648.3,507.2 681.7,488.4 627.5,460.9 594.1,479.8" stroke-width="1.49" fill="none"/>
<polyline points="600.6,479.1 643.7,500.9 672.1,484.9" stroke-width="1.03" fill="none"/>
<polygon points="686.6,485.6 720.0,466.8 665.7,439.3 632.4,458.2" stroke-width="1.49" fill="none"/>
<polyline points="638.8,457.5 681.9,479.3 710.4,463.3" stroke-width="1.03" fill="none"/>
<polygon points="724.8,464.0 758.2,445.2 704.0,417.7 670.6,436.6" stroke-width="1.49" fill="none"/>
<polyline points="677.1,435.9 720.2,457.7 748.6,441.7" stroke-width="1.03" fill="none"/>
<polygon points="763.1,442.4 793.4,425.3 739.2,397.9 708.9,415.0" stroke-width="1.49" fill="none"/>
<polyline points="715.3,414.3 758.4,436.1 783.8,421.8" stroke-width="1.03" fill="none"/>
<polyline points="504.3,597.5 504.3,606.5 810.3,433.7 810.3,424.7" stroke-width="1.61" fill="none"/>
<polyline points="434.8,562.3 436.8,589.3 445.8,594.3 454.8,584.3 479.8,597.3 492.8,626.3 504.3,627.8 504.3,606.5" stroke-width="1.61" fill="none"/>
<polyline points="504.3,627.8 512.3,622.0 524.3,595.5" stroke-width="1.61" fill="none"/>
<line x1="504.3" y1="606.5" x2="504.3" y2="627.8" stroke-width="1.38"/>
<polyline points="810.3,424.7 809.4,451.4 796.0,460.3 789.9,453.2 783.6,448.7" stroke-width="1.61" fill="none"/>
<line x1="809.3" y1="433.7" x2="809.3" y2="450.0" stroke-width="1.15"/>
<line x1="736.8" y1="405.5" x2="736.8" y2="419.5" stroke-width="1.26"/>
<line x1="741.8" y1="403.5" x2="741.8" y2="417.5" stroke-width="1.26"/>
<polygon points="920.8,335.9 1076.3,245.9 1233.7,336.8 1078.2,422.9" stroke-width="1.72" fill="none"/>
<polygon points="928.6,337.8 1076.3,252.1 1225.3,337.8 1078.2,417.0" stroke-width="1.26" fill="none"/>
<polyline points="920.8,335.9 922.1,347.6 1078.2,435.6 1233.2,347.2 1233.7,336.8" stroke-width="1.61" fill="none"/>
<line x1="1078.2" y1="422.9" x2="1078.2" y2="452.2" stroke-width="1.38"/>
<polyline points="921.7,341.7 1077.8,429.4 1232.8,341.7" stroke-width="1.03" fill="none"/>
<polyline points="922.1,347.6 923.7,359.3 933.5,370.1 939.3,371.1 946.2,361.3" stroke-width="1.61" fill="none"/>
<polyline points="1054.8,423.9 1063.6,445.4 1076.3,453.2 1091.9,444.4 1100.7,422.9" stroke-width="1.61" fill="none"/>
<polyline points="1233.2,347.2 1232.8,362.3 1219.1,374.0 1208.3,362.3" stroke-width="1.61" fill="none"/>
<polygon points="959.9,317.3 964.8,315.3 998.0,333.9 1026.4,334.9 1028.3,337.8 1026.4,340.7 996.1,344.7 960.9,324.1" stroke-width="1.49" fill="none"/>
<polygon points="1000.0,294.8 1004.9,292.4 1061.6,326.1 1057.7,331.0" stroke-width="1.49" fill="none"/>
<polygon points="1040.1,271.3 1045.0,268.4 1082.1,287.9 1080.2,292.8 1041.1,279.1" stroke-width="1.49" fill="none"/>
<polygon points="1154.5,293.8 1151.6,306.5 1096.8,331.0 1094.9,326.1" stroke-width="1.49" fill="none"/>
<polygon points="1127.1,335.9 1157.5,334.9 1192.7,353.5 1187.8,356.4 1155.5,343.7 1129.1,340.7" stroke-width="1.49" fill="none"/>
<polygon points="999.0,377.9 1003.9,383.8 1060.6,351.5 1057.7,347.6" stroke-width="1.49" fill="none"/>
<polygon points="1152.6,375.0 1147.7,378.9 1094.9,352.5 1097.8,348.6" stroke-width="1.49" fill="none"/>
<polygon points="1073.3,382.8 1078.2,381.8 1114.4,398.5 1107.6,403.3 1073.3,388.7" stroke-width="1.49" fill="none"/>
<polygon points="962.8,357.4 976.5,350.5 984.3,353.5 977.5,365.2 968.7,362.3" stroke-width="1.49" fill="none"/>
<polygon points="1033.2,397.5 1046.9,391.6 1054.8,394.5 1046.9,406.3 1038.1,403.3" stroke-width="1.49" fill="none"/>
<polyline points="962.4,316.7 997.1,338.8 1027.4,337.8" stroke-width="0.92" fill="none"/>
<polyline points="1002.3,293.8 1059.6,328.4" stroke-width="0.92" fill="none"/>
<polyline points="1153.2,298.7 1095.8,328.4" stroke-width="0.92" fill="none"/>
<polyline points="1128.1,338.2 1156.5,339.4 1190.1,355.0" stroke-width="0.92" fill="none"/>
<polyline points="1001.5,380.8 1059.1,349.5" stroke-width="0.92" fill="none"/>
<polyline points="1150.2,376.9 1096.2,350.5" stroke-width="0.92" fill="none"/>
<polyline points="1075.9,385.7 1111.1,400.8" stroke-width="0.92" fill="none"/>
<polyline points="1043.0,274.2 1081.2,290.5" stroke-width="0.92" fill="none"/>
<polygon points="1073.3,250.8 1079.2,249.8 1080.2,310.4 1074.3,311.4" stroke-width="1.38" fill="none"/>
<polyline points="1073.3,265.4 1079.8,265.0" stroke-width="1.15" fill="none"/>
<polyline points="1073.7,288.9 1080.0,288.5" stroke-width="1.15" fill="none"/>
<polygon points="1075.3,366.2 1081.2,366.2 1081.2,380.8 1075.3,381.8" stroke-width="1.38" fill="none"/>
<path d="M491.6,681.3 A16.3,7.0 0 0 1 524.2,681.3" stroke-width="1.61" fill="none"/>
<line x1="491.6" y1="681.3" x2="491.6" y2="688.3" stroke-width="1.72"/>
<line x1="524.2" y1="681.3" x2="524.2" y2="688.3" stroke-width="1.72"/>
<path d="M491.6,688.3 A16.3,8.5 0 0 0 524.2,688.3" stroke-width="2.07" fill="none"/>
<path d="M491.6,681.3 A16.3,7.5 0 0 0 524.2,681.3" stroke-width="1.26" fill="none"/>
<rect x="495.8" y="665.3" width="24.2" height="19.0" fill="#fff" stroke="none"/>
<ellipse cx="507.9" cy="665.3" rx="12.1" ry="6.0" stroke-width="2.07" fill="#fff"/>
<ellipse cx="507.9" cy="665.8" rx="4.0" ry="2.2" stroke-width="1.61" fill="none"/>
<line x1="495.8" y1="665.3" x2="495.8" y2="684.3" stroke-width="1.84"/>
<line x1="520.0" y1="665.3" x2="520.0" y2="684.3" stroke-width="2.07"/>
<line x1="500.1" y1="670.8" x2="500.1" y2="688.3" stroke-width="1.38"/>
<line x1="511.2" y1="671.3" x2="511.2" y2="689.3" stroke-width="1.38"/>
<path d="M495.8,678.3 A12.1,6.0 0 0 0 520.0,678.3" stroke-width="1.61" fill="none"/>
<path d="M495.8,668.3 A12.1,6.0 0 0 0 520.0,668.3" stroke-width="1.15" fill="none"/>
<path d="M1061.1,496.2 A16.3,7.0 0 0 1 1093.7,496.2" stroke-width="1.61" fill="none"/>
<line x1="1061.1" y1="496.2" x2="1061.1" y2="503.2" stroke-width="1.72"/>
<line x1="1093.7" y1="496.2" x2="1093.7" y2="503.2" stroke-width="1.72"/>
<path d="M1061.1,503.2 A16.3,8.5 0 0 0 1093.7,503.2" stroke-width="2.07" fill="none"/>
<path d="M1061.1,496.2 A16.3,7.5 0 0 0 1093.7,496.2" stroke-width="1.26" fill="none"/>
<rect x="1065.3" y="480.2" width="24.2" height="19.0" fill="#fff" stroke="none"/>
<ellipse cx="1077.4" cy="480.2" rx="12.1" ry="6.0" stroke-width="2.07" fill="#fff"/>
<ellipse cx="1077.4" cy="480.7" rx="4.0" ry="2.2" stroke-width="1.61" fill="none"/>
<line x1="1065.3" y1="480.2" x2="1065.3" y2="499.2" stroke-width="1.84"/>
<line x1="1089.5" y1="480.2" x2="1089.5" y2="499.2" stroke-width="2.07"/>
<line x1="1069.6" y1="485.7" x2="1069.6" y2="503.2" stroke-width="1.38"/>
<line x1="1080.7" y1="486.2" x2="1080.7" y2="504.2" stroke-width="1.38"/>
<path d="M1065.3,493.2 A12.1,6.0 0 0 0 1089.5,493.2" stroke-width="1.61" fill="none"/>
<path d="M1065.3,483.2 A12.1,6.0 0 0 0 1089.5,483.2" stroke-width="1.15" fill="none"/>
<path d="M710.5,682.9 L710.5,677.0 Q710.5,673.0 717.0,673.0 Q723.5,673.0 723.5,677.0 L723.5,682.9" stroke-width="1.49" fill="none"/>
<ellipse cx="717.0" cy="677.5" rx="5.8" ry="3.2" stroke-width="1.26" fill="none"/>
<line x1="711.8" y1="679.5" x2="721.7" y2="675.2" stroke-width="1.72"/>
<line x1="711.8" y1="677.5" x2="721.7" y2="673.8" stroke-width="1.15"/>
<line x1="717.0" y1="680.5" x2="717.0" y2="682.9" stroke-width="1.15"/>
<ellipse cx="717.0" cy="684.4" rx="10.5" ry="3.6" stroke-width="1.49" fill="#fff"/>
<path d="M710.5,683.9 L710.5,677.0" stroke-width="1.49" fill="none"/>
<path d="M723.5,683.9 L723.5,677.0" stroke-width="1.49" fill="none"/>
<ellipse cx="717.0" cy="682.4" rx="6.5" ry="2.2" stroke-width="1.15" fill="none"/>
<polyline points="711.5,687.9 711.5,706.0 715.5,712.0 718.5,712.0 722.5,706.0 722.5,687.9" stroke-width="1.49" fill="none"/>
<line x1="712.5" y1="690.9" x2="721.5" y2="692.9" stroke-width="1.03"/>
<line x1="712.5" y1="695.1" x2="721.5" y2="697.1" stroke-width="1.03"/>
<line x1="712.5" y1="699.3" x2="721.5" y2="701.3" stroke-width="1.03"/>
<line x1="712.5" y1="703.5" x2="721.5" y2="705.5" stroke-width="1.03"/>
<path d="M373.1,839.5 L373.1,834.2 Q373.1,830.2 379.6,830.2 Q386.1,830.2 386.1,834.2 L386.1,839.5" stroke-width="1.49" fill="none"/>
<ellipse cx="379.6" cy="834.7" rx="5.8" ry="3.2" stroke-width="1.26" fill="none"/>
<line x1="374.4" y1="836.7" x2="384.3" y2="832.4" stroke-width="1.72"/>
<line x1="374.4" y1="834.7" x2="384.3" y2="831.0" stroke-width="1.15"/>
<line x1="379.6" y1="837.7" x2="379.6" y2="839.5" stroke-width="1.15"/>
<ellipse cx="379.6" cy="841.0" rx="10.5" ry="3.6" stroke-width="1.49" fill="#fff"/>
<path d="M373.1,840.5 L373.1,834.2" stroke-width="1.49" fill="none"/>
<path d="M386.1,840.5 L386.1,834.2" stroke-width="1.49" fill="none"/>
<ellipse cx="379.6" cy="839.0" rx="6.5" ry="2.2" stroke-width="1.15" fill="none"/>
<polyline points="374.1,844.5 374.1,862.2 378.1,868.2 381.1,868.2 385.1,862.2 385.1,844.5" stroke-width="1.49" fill="none"/>
<line x1="375.1" y1="847.5" x2="384.1" y2="849.5" stroke-width="1.03"/>
<line x1="375.1" y1="851.7" x2="384.1" y2="853.7" stroke-width="1.03"/>
<line x1="375.1" y1="855.9" x2="384.1" y2="857.9" stroke-width="1.03"/>
<line x1="375.1" y1="860.1" x2="384.1" y2="862.1" stroke-width="1.03"/>
<path d="M384.5,972.1 L384.5,966.2 Q384.5,962.2 391.0,962.2 Q397.5,962.2 397.5,966.2 L397.5,972.1" stroke-width="1.49" fill="none"/>
<ellipse cx="391.0" cy="966.7" rx="5.8" ry="3.2" stroke-width="1.26" fill="none"/>
<line x1="385.8" y1="968.7" x2="395.7" y2="964.4" stroke-width="1.72"/>
<line x1="385.8" y1="966.7" x2="395.7" y2="963.0" stroke-width="1.15"/>
<line x1="391.0" y1="969.7" x2="391.0" y2="972.1" stroke-width="1.15"/>
<ellipse cx="391.0" cy="973.6" rx="10.5" ry="3.6" stroke-width="1.49" fill="#fff"/>
<path d="M384.5,973.1 L384.5,966.2" stroke-width="1.49" fill="none"/>
<path d="M397.5,973.1 L397.5,966.2" stroke-width="1.49" fill="none"/>
<ellipse cx="391.0" cy="971.6" rx="6.5" ry="2.2" stroke-width="1.15" fill="none"/>
<polyline points="385.5,977.1 385.5,994.2 389.5,1000.2 392.5,1000.2 396.5,994.2 396.5,977.1" stroke-width="1.49" fill="none"/>
<line x1="386.5" y1="980.1" x2="395.5" y2="982.1" stroke-width="1.03"/>
<line x1="386.5" y1="984.3" x2="395.5" y2="986.3" stroke-width="1.03"/>
<line x1="386.5" y1="988.5" x2="395.5" y2="990.5" stroke-width="1.03"/>
<line x1="386.5" y1="992.7" x2="395.5" y2="994.7" stroke-width="1.03"/>
<path d="M1034.5,702.3 L1034.5,697.0 Q1034.5,693.0 1041.0,693.0 Q1047.5,693.0 1047.5,697.0 L1047.5,702.3" stroke-width="1.49" fill="none"/>
<ellipse cx="1041.0" cy="697.5" rx="5.8" ry="3.2" stroke-width="1.26" fill="none"/>
<line x1="1035.8" y1="699.5" x2="1045.7" y2="695.2" stroke-width="1.72"/>
<line x1="1035.8" y1="697.5" x2="1045.7" y2="693.8" stroke-width="1.15"/>
<line x1="1041.0" y1="700.5" x2="1041.0" y2="702.3" stroke-width="1.15"/>
<ellipse cx="1041.0" cy="703.8" rx="10.5" ry="3.6" stroke-width="1.49" fill="#fff"/>
<path d="M1034.5,703.3 L1034.5,697.0" stroke-width="1.49" fill="none"/>
<path d="M1047.5,703.3 L1047.5,697.0" stroke-width="1.49" fill="none"/>
<ellipse cx="1041.0" cy="701.8" rx="6.5" ry="2.2" stroke-width="1.15" fill="none"/>
<polyline points="1035.5,707.3 1035.5,726.0 1039.5,732.0 1042.5,732.0 1046.5,726.0 1046.5,707.3" stroke-width="1.49" fill="none"/>
<line x1="1036.5" y1="710.3" x2="1045.5" y2="712.3" stroke-width="1.03"/>
<line x1="1036.5" y1="714.5" x2="1045.5" y2="716.5" stroke-width="1.03"/>
<line x1="1036.5" y1="718.7" x2="1045.5" y2="720.7" stroke-width="1.03"/>
<line x1="1036.5" y1="722.9" x2="1045.5" y2="724.9" stroke-width="1.03"/>
<path d="M330.1,898.7 C330.7,895.7 331.4,891.9 334.5,888.9 C337.6,886.0 343.1,882.8 348.7,880.9 C354.4,879.0 361.8,877.6 368.3,877.4 C374.8,877.2 384.5,878.5 387.9,879.7 C391.3,880.9 387.9,883.1 388.8,884.5 C389.6,885.9 390.5,887.3 393.2,888.0 C395.9,888.8 402.2,887.0 404.8,888.9 C407.3,890.8 407.9,896.3 408.3,899.6 C408.8,902.9 408.0,906.1 407.4,908.5 C406.8,910.9 404.8,912.2 404.8,913.8 C404.8,915.4 407.6,916.8 407.4,918.3 C407.3,919.7 405.9,921.8 403.9,922.7 C401.8,923.6 397.5,922.7 395.0,923.6 C392.5,924.5 389.9,926.1 388.8,928.0 C387.6,930.0 389.2,933.2 387.9,935.2 C386.5,937.1 383.1,939.3 380.8,939.6 C378.4,939.9 375.3,938.6 373.6,936.9 C372.0,935.3 371.9,931.9 371.0,929.8 C370.1,927.7 371.4,926.0 368.3,924.5 C365.2,923.0 355.6,922.4 352.3,920.9 C349.0,919.4 350.5,917.1 348.7,915.6 C347.0,914.1 344.0,912.8 341.6,912.0 C339.3,911.3 336.3,912.0 334.5,911.2 C332.7,910.3 331.7,908.8 331.0,906.7 C330.2,904.6 329.5,901.7 330.1,898.7 Z" stroke-width="1.72" fill="none"/>
<path d="M338.1,899.6 C338.1,896.0 340.1,890.1 343.4,887.1 C346.7,884.2 352.3,882.6 357.6,881.8 C363.0,881.0 368.3,879.6 375.4,882.2 C382.5,884.7 396.0,892.8 400.3,896.9 C404.6,901.0 402.4,903.9 401.2,906.7 C400.0,909.5 398.4,911.9 393.2,913.8 C388.0,915.7 378.4,919.2 370.1,918.3 C361.8,917.4 348.7,911.6 343.4,908.5 C338.1,905.4 338.1,903.1 338.1,899.6 Z" stroke-width="1.49" fill="none"/>
<ellipse cx="397.7" cy="916.5" rx="7.5" ry="5.0" stroke-width="1.49" fill="none"/>
<ellipse cx="397.7" cy="916.5" rx="4.0" ry="2.5" stroke-width="1.26" fill="none"/>
<ellipse cx="379.9" cy="932.5" rx="7.5" ry="5.0" stroke-width="1.49" fill="none"/>
<ellipse cx="379.9" cy="932.5" rx="4.0" ry="2.5" stroke-width="1.26" fill="none"/>
<polygon points="322.0,1162.4 324.2,1161.0 339.8,1171.0 339.8,1188.7 337.0,1189.1 322.0,1179.5" stroke-width="1.44" fill="none"/>
<polyline points="324.2,1161.0 349.8,1148.2 361.9,1153.2" stroke-width="1.44" fill="none"/>
<polyline points="339.8,1171.0 381.8,1148.2" stroke-width="1.44" fill="none"/>
<polyline points="342.7,1168.5 380.4,1148.5" stroke-width="0.92" fill="none"/>
<polyline points="339.8,1188.7 356.9,1179.5 356.9,1171.0" stroke-width="1.44" fill="none"/>
<polygon points="346.6,1173.8 351.9,1171.7 351.9,1180.2 346.6,1182.3" stroke-width="1.84" fill="none"/>
<polyline points="356.9,1171.0 370.4,1163.1 372.5,1168.1 381.8,1163.8 397.4,1173.8 397.4,1182.3 386.8,1185.2 360.5,1171.0" stroke-width="1.44" fill="none"/>
<polyline points="381.8,1148.2 381.8,1163.8" stroke-width="1.44" fill="none"/>
<polyline points="348.4,1145.3 348.4,1162.4" stroke-width="2.76" fill="none"/>
<polyline points="353.3,1130.4 353.3,1143.2" stroke-width="1.44" fill="none"/>
<polyline points="361.9,1130.4 361.9,1143.2" stroke-width="1.44" fill="none"/>
<polygon points="328.4,1136.8 335.6,1131.8 347.7,1138.2 347.7,1145.3 340.5,1150.3 328.4,1143.9" stroke-width="1.44" fill="none"/>
<polyline points="328.4,1136.8 340.5,1142.5 347.7,1138.2" stroke-width="1.44" fill="none"/>
<polyline points="339.1,1142.5 339.1,1150.3" stroke-width="1.44" fill="none"/>
<polyline points="333.4,1114.1 337.7,1111.9 344.8,1111.9 345.5,1107.7 354.1,1106.6 366.1,1106.2 371.1,1108.4 388.9,1118.3 389.6,1132.5 382.5,1135.4 381.8,1146.1 369.0,1146.1 368.3,1138.2" stroke-width="1.44" fill="none"/>
<polyline points="333.4,1114.1 333.4,1125.4 337.0,1126.9 340.5,1124.0 340.5,1114.1" stroke-width="1.44" fill="none"/>
<polyline points="335.6,1126.1 349.8,1132.5 366.9,1130.4" stroke-width="1.44" fill="none"/>
<polyline points="339.8,1124.0 351.2,1128.3 368.3,1126.9" stroke-width="1.44" fill="none"/>
<polyline points="376.8,1114.8 380.4,1112.6 388.9,1118.3" stroke-width="1.44" fill="none"/>
<polyline points="375.4,1115.5 375.4,1131.1 381.8,1134.7" stroke-width="1.44" fill="none"/>
<polyline points="369.7,1118.3 370.4,1136.8" stroke-width="2.07" fill="none"/>
<polyline points="388.2,1164.6 381.1,1148.2" stroke-width="0.92" fill="none"/>
<ellipse cx="331.3" cy="1176.6" rx="5.3" ry="8.5" stroke-width="1.44" fill="none" transform="rotate(-15.0 331.3 1176.6)"/>
<ellipse cx="331.3" cy="1176.6" rx="4.1" ry="7.0" stroke-width="1.15" fill="none" transform="rotate(-15.0 331.3 1176.6)"/>
<ellipse cx="358.3" cy="1151.7" rx="6.4" ry="3.9" stroke-width="1.44" fill="none" transform="rotate(-10.0 358.3 1151.7)"/>
<ellipse cx="358.3" cy="1151.7" rx="4.1" ry="2.1" stroke-width="1.72" fill="none" transform="rotate(-10.0 358.3 1151.7)"/>
<ellipse cx="392.5" cy="1177.4" rx="4.4" ry="3.0" stroke-width="1.49" fill="none"/>
<ellipse cx="392.5" cy="1177.4" rx="2.8" ry="1.8" stroke-width="1.26" fill="none"/>
<path d="M345.5,1114.1 Q349.8,1126.1 360.5,1124.0 Q368.3,1122.6 370.4,1115.5" stroke-width="1.61" fill="none"/>
<path d="M352.6,1107.7 Q351.2,1121.2 366.1,1121.9" stroke-width="1.26" fill="none"/>
<polygon points="662.1,887.2 664.2,885.8 677.3,893.3 677.3,909.9 675.5,910.4 662.1,901.4" stroke-width="1.44" fill="none"/>
<polyline points="664.2,885.8 693.8,868.9 706.6,875.6" stroke-width="1.44" fill="none"/>
<polyline points="677.3,893.3 706.6,876.8" stroke-width="1.44" fill="none"/>
<polyline points="679.7,890.7 706.0,876.2" stroke-width="0.92" fill="none"/>
<polyline points="693.5,884.9 693.5,902.3 677.3,909.9" stroke-width="1.44" fill="none"/>
<polygon points="684.5,893.3 690.2,892.4 690.2,901.7 684.5,902.9" stroke-width="1.44" fill="none"/>
<polygon points="693.5,891.9 702.4,888.4 703.6,892.4 714.4,890.1 724.5,895.3 724.5,900.6 714.4,905.8 693.5,896.5" stroke-width="1.44" fill="none"/>
<polyline points="720.3,847.7 737.0,848.3 746.6,855.8 746.6,872.7 732.3,881.4 731.7,885.5 720.3,879.1" stroke-width="1.44" fill="none"/>
<polyline points="720.3,870.9 745.4,861.1" stroke-width="0.92" fill="none"/>
<polygon points="735.9,865.7 740.6,863.4 740.6,873.3 735.9,874.4" stroke-width="1.44" fill="none"/>
<polyline points="707.2,846.6 707.2,859.3" stroke-width="1.44" fill="none"/>
<polyline points="716.1,846.6 716.1,859.3" stroke-width="1.44" fill="none"/>
<polyline points="705.4,860.5 705.4,884.9" stroke-width="3.00" fill="none"/>
<polyline points="700.6,825.1 706.0,823.9 721.5,824.5 732.3,828.0 740.6,832.0 740.9,840.7 734.7,842.5 734.1,848.3 723.3,847.7" stroke-width="1.44" fill="none"/>
<polyline points="700.6,825.1 700.6,830.3" stroke-width="1.44" fill="none"/>
<polyline points="728.1,830.9 734.1,833.8 734.7,837.8 731.1,835.5" stroke-width="1.44" fill="none"/>
<polygon points="690.5,832.6 695.2,829.1 700.6,829.7 700.6,836.1 692.9,841.3 690.5,839.6" stroke-width="1.44" fill="none"/>
<polyline points="692.9,841.3 692.9,844.2 703.6,847.7 705.4,846.6" stroke-width="1.44" fill="none"/>
<polygon points="690.5,848.9 690.5,857.6 700.0,862.2 704.2,860.5 704.2,852.9 692.9,849.5" stroke-width="1.44" fill="none"/>
<polyline points="690.5,850.0 704.2,854.7" stroke-width="1.03" fill="none"/>
<polyline points="694.0,860.5 694.0,867.5" stroke-width="1.44" fill="none"/>
<polyline points="723.3,848.9 723.3,879.1" stroke-width="1.44" fill="none"/>
<polygon points="719.7,890.1 728.1,870.4 731.1,872.1 727.5,880.8" stroke-width="1.15" fill="none"/>
<ellipse cx="669.9" cy="897.7" rx="4.5" ry="6.5" stroke-width="1.44" fill="none" transform="rotate(-15.0 669.9 897.7)"/>
<ellipse cx="669.9" cy="897.7" rx="3.1" ry="5.1" stroke-width="1.15" fill="none" transform="rotate(-15.0 669.9 897.7)"/>
<ellipse cx="689.3" cy="879.1" rx="6.6" ry="3.2" stroke-width="1.44" fill="none" transform="rotate(-28.0 689.3 879.1)"/>
<ellipse cx="689.3" cy="879.1" rx="3.3" ry="1.6" stroke-width="1.61" fill="none" transform="rotate(-28.0 689.3 879.1)"/>
<ellipse cx="713.2" cy="864.6" rx="5.4" ry="3.2" stroke-width="1.38" fill="none"/>
<ellipse cx="713.2" cy="864.6" rx="3.0" ry="1.6" stroke-width="1.15" fill="none"/>
<ellipse cx="714.4" cy="897.1" rx="2.7" ry="1.9" stroke-width="1.26" fill="none"/>
<path d="M701.2,834.4 Q705.4,842.5 719.7,841.9" stroke-width="2.53" fill="none"/>
<ellipse cx="712.9" cy="832.6" rx="10.7" ry="8.1" stroke-width="1.15" fill="none"/>
<ellipse cx="358.2" cy="1081.3" rx="5.6" ry="2.9" stroke-width="1.38" fill="none"/>
<polyline points="352.6,1081.3 351.5,1084.0 351.5,1090.2 358.2,1092.1 364.9,1090.2 364.9,1084.0 363.8,1081.3" stroke-width="1.38" fill="none"/>
<line x1="358.2" y1="1084.4" x2="358.2" y2="1092.1" stroke-width="1.03"/>
<polyline points="353.9,1090.9 353.9,1095.6" stroke-width="1.38" fill="none"/>
<polyline points="362.5,1090.9 362.5,1095.6" stroke-width="1.38" fill="none"/>
<path d="M353.9,1095.6 Q358.2,1098.5 362.5,1095.6" stroke-width="1.38" fill="none"/>
<ellipse cx="356.6" cy="1080.9" rx="0.9" ry="1.0" stroke-width="0.92" fill="none"/>
<ellipse cx="359.8" cy="1080.9" rx="0.9" ry="1.0" stroke-width="0.92" fill="none"/>
<ellipse cx="689.7" cy="784.7" rx="5.5" ry="2.8" stroke-width="1.38" fill="none"/>
<polyline points="684.1,784.7 683.1,787.3 683.1,793.2 689.7,795.0 696.2,793.2 696.2,787.3 695.2,784.7" stroke-width="1.38" fill="none"/>
<line x1="689.7" y1="787.7" x2="689.7" y2="795.0" stroke-width="1.03"/>
<polyline points="685.5,793.9 685.5,798.4" stroke-width="1.38" fill="none"/>
<polyline points="693.8,793.9 693.8,798.4" stroke-width="1.38" fill="none"/>
<path d="M685.5,798.4 Q689.7,801.2 693.8,798.4" stroke-width="1.38" fill="none"/>
<ellipse cx="688.1" cy="784.4" rx="0.9" ry="0.9" stroke-width="0.92" fill="none"/>
<ellipse cx="691.2" cy="784.4" rx="0.9" ry="0.9" stroke-width="0.92" fill="none"/>
<ellipse cx="712.8" cy="801.8" rx="5.0" ry="2.7" stroke-width="1.38" fill="none"/>
<polyline points="707.8,801.8 706.9,804.3 706.9,810.0 712.8,811.8 718.7,810.0 718.7,804.3 717.8,801.8" stroke-width="1.38" fill="none"/>
<line x1="712.8" y1="804.7" x2="712.8" y2="811.8" stroke-width="1.03"/>
<polyline points="709.0,810.7 709.0,815.0" stroke-width="1.38" fill="none"/>
<polyline points="716.6,810.7 716.6,815.0" stroke-width="1.38" fill="none"/>
<path d="M709.0,815.0 Q712.8,817.8 716.6,815.0" stroke-width="1.38" fill="none"/>
<ellipse cx="711.4" cy="801.5" rx="0.8" ry="0.9" stroke-width="0.92" fill="none"/>
<ellipse cx="714.2" cy="801.5" rx="0.8" ry="0.9" stroke-width="0.92" fill="none"/>
<ellipse cx="524.0" cy="1015.2" rx="50.5" ry="32.5" stroke-width="1.61" fill="none"/>
<ellipse cx="524.0" cy="1012.8" rx="49.5" ry="30.5" stroke-width="1.26" fill="none"/>
<ellipse cx="523.6" cy="1011.2" rx="42.5" ry="25.5" stroke-width="1.38" fill="none"/>
<ellipse cx="524.4" cy="1011.5" rx="31.0" ry="17.5" stroke-width="1.72" fill="none"/>
<ellipse cx="524.4" cy="1014.4" rx="15.0" ry="7.5" stroke-width="1.49" fill="none"/>
<ellipse cx="524.4" cy="1015.7" rx="11.0" ry="5.0" stroke-width="1.15" fill="none"/>
<ellipse cx="524.4" cy="1000.0" rx="8.5" ry="5.5" stroke-width="1.49" fill="none"/>
<line x1="515.9" y1="1000.8" x2="515.9" y2="1013.6" stroke-width="1.49"/>
<line x1="533.2" y1="1000.8" x2="533.2" y2="1013.6" stroke-width="1.49"/>
<ellipse cx="540.4" cy="1004.8" rx="3.0" ry="1.6" stroke-width="1.15" fill="none"/>
<ellipse cx="555.6" cy="1029.6" rx="6.5" ry="6.0" stroke-width="1.49" fill="none"/>
<ellipse cx="555.6" cy="1029.6" rx="3.0" ry="3.0" stroke-width="1.15" fill="none"/>
<polyline points="546.8,1039.2 551.6,1024.8 567.6,1023.2 569.2,1028.8" stroke-width="1.15" fill="none"/>
<polyline points="551.6,1041.6 551.6,1058.4 559.6,1059.2 559.6,1041.6" stroke-width="1.38" fill="none"/>
<polyline points="518.0,1068.8 518.0,1102.4" stroke-width="1.49" fill="none"/>
<polyline points="530.0,1068.8 530.0,1096.0" stroke-width="1.49" fill="none"/>
<ellipse cx="524.0" cy="1068.8" rx="6.0" ry="2.5" stroke-width="1.38" fill="none"/>
<polyline points="518.0,1096.0 512.4,1099.2 512.4,1108.0 526.0,1114.4 534.8,1109.6 535.6,1100.8 530.0,1096.0" stroke-width="1.49" fill="none"/>
<path d="M518.0,1100.8 Q524.0,1104.0 530.0,1100.8" stroke-width="1.38" fill="none"/>
<polyline points="513.2,1107.2 526.0,1113.6 526.0,1107.2 532.4,1104.8" stroke-width="1.15" fill="none"/>
<polyline points="521.2,1113.6 522.0,1133.7 525.2,1133.7 526.0,1113.6" stroke-width="1.49" fill="none"/>
<polygon points="524.4,1104.8 530.8,1108.0 529.2,1112.0 524.4,1109.6" stroke-width="1.15" fill="#000"/>
<polyline points="522.8,1144.1 528.0,1136.9 533.2,1144.1 533.2,1161.7 522.8,1161.7 522.8,1144.1" stroke-width="1.49" fill="none"/>
<line x1="522.8" y1="1147.3" x2="533.2" y2="1149.2" stroke-width="1.03"/>
<line x1="522.8" y1="1150.1" x2="533.2" y2="1152.1" stroke-width="1.03"/>
<line x1="522.8" y1="1153.0" x2="533.2" y2="1154.9" stroke-width="1.03"/>
<line x1="522.8" y1="1155.9" x2="533.2" y2="1157.8" stroke-width="1.03"/>
<line x1="522.8" y1="1158.8" x2="533.2" y2="1160.7" stroke-width="1.03"/>
<polyline points="520.4,1162.5 519.6,1168.1 522.0,1172.9 534.0,1173.7 538.0,1168.1 537.2,1162.5 528.0,1160.9 520.4,1162.5" stroke-width="1.49" fill="none"/>
<line x1="528.0" y1="1166.5" x2="528.0" y2="1173.7" stroke-width="1.03"/>
<ellipse cx="524.4" cy="1187.3" rx="11.0" ry="3.2" stroke-width="1.49" fill="none"/>
<ellipse cx="524.4" cy="1190.5" rx="11.0" ry="3.2" stroke-width="1.49" fill="none"/>
<ellipse cx="524.4" cy="1193.7" rx="11.0" ry="3.2" stroke-width="1.49" fill="none"/>
<ellipse cx="524.4" cy="1196.9" rx="11.0" ry="3.2" stroke-width="1.49" fill="none"/>
<ellipse cx="524.4" cy="1200.1" rx="11.0" ry="3.2" stroke-width="1.49" fill="none"/>
<ellipse cx="524.4" cy="1203.3" rx="11.0" ry="3.2" stroke-width="1.49" fill="none"/>
<ellipse cx="524.4" cy="1206.5" rx="11.0" ry="3.2" stroke-width="1.49" fill="none"/>
<polyline points="513.5,1187.3 513.5,1206.5" stroke-width="1.72" fill="none"/>
<polyline points="535.6,1187.3 535.6,1206.5" stroke-width="1.72" fill="none"/>
<ellipse cx="524.4" cy="1222.5" rx="12.0" ry="6.5" stroke-width="1.72" fill="none"/>
<ellipse cx="524.4" cy="1222.5" rx="7.0" ry="3.5" stroke-width="1.38" fill="none"/>
<polyline points="532.4,1218.5 536.4,1220.9 534.0,1224.1" stroke-width="1.38" fill="none"/>
<polygon points="1009.0,576.0 1012.5,569.5 1024.5,568.5 1032.0,574.0 1032.0,580.0 1028.5,585.0 1016.5,585.5 1009.0,580.0" stroke-width="1.49" fill="none"/>
<ellipse cx="1020.5" cy="575.5" rx="9.5" ry="5.0" stroke-width="1.61" fill="none"/>
<ellipse cx="1020.5" cy="660.0" rx="38.0" ry="22.5" stroke-width="2.07" fill="none"/>
<path d="M982.8,660 A37.7,20.5 0 0 1 1058.2,660" stroke-width="1.38" fill="none"/>
<path d="M983.5,663 A37,20.5 0 0 0 1057.5,663" stroke-width="1.26" fill="none"/>
<ellipse cx="1020.5" cy="653.8" rx="4.2" ry="2.2" stroke-width="1.49" fill="none"/>
<ellipse cx="1020.0" cy="773.0" rx="38.7" ry="19.5" stroke-width="1.61" fill="none"/>
<ellipse cx="1020.0" cy="770.0" rx="37.0" ry="17.5" stroke-width="1.15" fill="none"/>
<ellipse cx="1020.0" cy="761.0" rx="35.0" ry="18.7" stroke-width="1.38" fill="none"/>
<ellipse cx="1020.0" cy="759.0" rx="28.0" ry="13.5" stroke-width="1.38" fill="none"/>
<line x1="1055.0" y1="761.0" x2="1048.0" y2="759.0" stroke-width="1.72"/>
<line x1="1054.5" y1="764.2" x2="1047.6" y2="761.3" stroke-width="1.72"/>
<line x1="1052.9" y1="767.4" x2="1046.3" y2="763.6" stroke-width="1.72"/>
<line x1="1050.3" y1="770.4" x2="1044.2" y2="765.8" stroke-width="1.72"/>
<line x1="1046.8" y1="773.0" x2="1041.4" y2="767.7" stroke-width="1.72"/>
<line x1="1042.5" y1="775.3" x2="1038.0" y2="769.3" stroke-width="1.72"/>
<line x1="1037.5" y1="777.2" x2="1034.0" y2="770.7" stroke-width="1.72"/>
<line x1="1032.0" y1="778.6" x2="1029.6" y2="771.7" stroke-width="1.72"/>
<line x1="1026.1" y1="779.4" x2="1024.9" y2="772.3" stroke-width="1.72"/>
<line x1="1020.0" y1="779.7" x2="1020.0" y2="772.5" stroke-width="1.72"/>
<line x1="1013.9" y1="779.4" x2="1015.1" y2="772.3" stroke-width="1.72"/>
<line x1="1008.0" y1="778.6" x2="1010.4" y2="771.7" stroke-width="1.72"/>
<line x1="1002.5" y1="777.2" x2="1006.0" y2="770.7" stroke-width="1.72"/>
<line x1="997.5" y1="775.3" x2="1002.0" y2="769.3" stroke-width="1.72"/>
<line x1="993.2" y1="773.0" x2="998.6" y2="767.7" stroke-width="1.72"/>
<line x1="989.7" y1="770.4" x2="995.8" y2="765.8" stroke-width="1.72"/>
<line x1="987.1" y1="767.4" x2="993.7" y2="763.6" stroke-width="1.72"/>
<line x1="985.5" y1="764.2" x2="992.4" y2="761.3" stroke-width="1.72"/>
<line x1="985.0" y1="761.0" x2="992.0" y2="759.0" stroke-width="1.72"/>
<line x1="985.5" y1="757.8" x2="992.4" y2="756.7" stroke-width="1.72"/>
<line x1="987.1" y1="754.6" x2="993.7" y2="754.4" stroke-width="1.72"/>
<line x1="989.7" y1="751.6" x2="995.8" y2="752.2" stroke-width="1.72"/>
<line x1="993.2" y1="749.0" x2="998.6" y2="750.3" stroke-width="1.72"/>
<line x1="997.5" y1="746.7" x2="1002.0" y2="748.7" stroke-width="1.72"/>
<line x1="1002.5" y1="744.8" x2="1006.0" y2="747.3" stroke-width="1.72"/>
<line x1="1008.0" y1="743.4" x2="1010.4" y2="746.3" stroke-width="1.72"/>
<line x1="1013.9" y1="742.6" x2="1015.1" y2="745.7" stroke-width="1.72"/>
<line x1="1020.0" y1="742.3" x2="1020.0" y2="745.5" stroke-width="1.72"/>
<line x1="1026.1" y1="742.6" x2="1024.9" y2="745.7" stroke-width="1.72"/>
<line x1="1032.0" y1="743.4" x2="1029.6" y2="746.3" stroke-width="1.72"/>
<line x1="1037.5" y1="744.8" x2="1034.0" y2="747.3" stroke-width="1.72"/>
<line x1="1042.5" y1="746.7" x2="1038.0" y2="748.7" stroke-width="1.72"/>
<line x1="1046.8" y1="749.0" x2="1041.4" y2="750.3" stroke-width="1.72"/>
<line x1="1050.3" y1="751.6" x2="1044.2" y2="752.2" stroke-width="1.72"/>
<line x1="1052.9" y1="754.6" x2="1046.3" y2="754.4" stroke-width="1.72"/>
<line x1="1054.5" y1="757.8" x2="1047.6" y2="756.7" stroke-width="1.72"/>
<ellipse cx="1020.0" cy="764.0" rx="17.3" ry="8.9" stroke-width="1.49" fill="none"/>
<ellipse cx="1020.0" cy="766.0" rx="21.0" ry="11.0" stroke-width="1.15" fill="none"/>
<ellipse cx="1020.0" cy="762.0" rx="8.0" ry="4.4" stroke-width="1.61" fill="none"/>
<ellipse cx="1020.0" cy="762.0" rx="4.0" ry="2.2" stroke-width="1.15" fill="none"/>
<polyline points="1056.5,571.0 1056.5,567.7 1069.6,559.6 1527.7,826.3 1529.3,833.4 1525.0,836.0 1525.0,831.0 1514.6,837.4 1056.5,571.0" stroke-width="1.49" fill="none"/>
<line x1="1059.0" y1="567.5" x2="1518.0" y2="833.0" stroke-width="1.15"/>
<line x1="1060.0" y1="575.0" x2="1516.0" y2="841.0" stroke-width="1.15"/>
<polyline points="1514.6,837.4 1514.6,842.5 1519.0,843.5 1523.0,841.0 1523.0,836.0" stroke-width="1.15" fill="none"/>
<polyline points="1437.5,870.7 1455.0,860.3 1457.6,854.6 1451.4,853.6 1432.9,862.2" stroke-width="1.49" fill="#fff"/>
<line x1="1440.9" y1="868.7" x2="1438.3" y2="859.6" stroke-width="1.03"/>
<line x1="1444.3" y1="866.6" x2="1442.0" y2="857.9" stroke-width="1.03"/>
<line x1="1447.8" y1="864.6" x2="1445.6" y2="856.2" stroke-width="1.03"/>
<line x1="1451.2" y1="862.5" x2="1449.2" y2="854.5" stroke-width="1.03"/>
<line x1="1454.6" y1="860.5" x2="1452.9" y2="852.8" stroke-width="1.03"/>
<ellipse cx="1431.7" cy="868.4" rx="7.3" ry="10.5" stroke-width="1.49" fill="#fff" transform="rotate(-28.0 1431.7 868.4)"/>
<polygon points="1433.7,869.9 1432.8,876.5 1427.2,876.8 1422.6,870.5 1423.5,864.0 1429.0,863.7" stroke-width="1.38" fill="#fff"/>
<ellipse cx="1427.3" cy="870.7" rx="4.0" ry="5.8" stroke-width="1.26" fill="none" transform="rotate(-28.0 1427.3 870.7)"/>
<line x1="1424.5" y1="865.6" x2="1430.0" y2="875.8" stroke-width="1.84"/>
<ellipse cx="1515.6" cy="1063.0" rx="9.0" ry="5.5" stroke-width="1.49" fill="none"/>
<path d="M1506.6,1063 Q1506.6,1074 1515.6,1074 Q1524.6,1074 1524.6,1063" stroke-width="1.49" fill="none"/>
<polyline points="1513.0,1074.0 1513.0,1092.0 1518.0,1093.0 1518.0,1074.0" stroke-width="1.38" fill="none"/>
<polygon points="699.1,1018.7 1019.5,834.3 1185.8,923.5 865.4,1107.9" stroke-width="1.61" fill="none"/>
<polyline points="708.7,1013.2 705.7,1008.0 990.9,843.9 993.9,849.1" stroke-width="1.26" fill="none"/>
<line x1="707.0" y1="1010.1" x2="992.1" y2="846.0" stroke-width="1.03"/>
<polyline points="1024.5,837.0 1027.3,831.7 1175.3,911.1 1172.5,916.4" stroke-width="1.26" fill="none"/>
<line x1="1026.1" y1="833.9" x2="1174.2" y2="913.3" stroke-width="1.03"/>
<line x1="709.3" y1="1019.6" x2="859.0" y2="1099.9" stroke-width="1.15"/>
<line x1="879.4" y1="1095.2" x2="1167.8" y2="929.3" stroke-width="1.15"/>
<path d="M753.7,1021.8 Q746.0,1017.2 753.8,1012.8 L1014.7,864.4 Q1022.5,860.0 1030.4,864.4 L1134.1,922.1 Q1142.0,926.5 1134.2,931.0 L873.1,1083.7 Q865.3,1088.2 857.6,1083.6 Z" stroke-width="1.49" fill="none"/>
<path d="M765.8,1017.7 Q759.9,1014.0 766.0,1010.6 L1008.5,874.6 Q1014.6,871.2 1020.9,874.4 L1121.9,926.5 Q1128.1,929.7 1122.1,933.2 L875.3,1078.8 Q869.2,1082.4 863.3,1078.7 Z" stroke-width="1.15" fill="none"/>
<line x1="757.3" y1="1017.7" x2="1017.2" y2="869.9" stroke-width="1.15"/>
<ellipse cx="1023.5" cy="868.0" rx="6.0" ry="8.0" stroke-width="1.15" fill="none"/>
<ellipse cx="754.0" cy="1019.2" rx="5.0" ry="7.0" stroke-width="1.15" fill="none" transform="rotate(-30.0 754.0 1019.2)"/>
<ellipse cx="1134.0" cy="927.5" rx="5.0" ry="7.0" stroke-width="1.15" fill="none" transform="rotate(30.0 1134.0 927.5)"/>
<ellipse cx="1024.0" cy="843.4" rx="6.5" ry="4.2" stroke-width="1.49" fill="none"/>
<ellipse cx="1024.0" cy="843.4" rx="3.2" ry="2.0" stroke-width="1.26" fill="none"/>
<ellipse cx="1167.6" cy="926.5" rx="6.5" ry="4.2" stroke-width="1.49" fill="none"/>
<ellipse cx="1167.6" cy="926.5" rx="3.2" ry="2.0" stroke-width="1.26" fill="none"/>
<ellipse cx="718.7" cy="1020.2" rx="6.5" ry="4.2" stroke-width="1.49" fill="none"/>
<ellipse cx="718.7" cy="1020.2" rx="3.2" ry="2.0" stroke-width="1.26" fill="none"/>
<ellipse cx="862.3" cy="1103.3" rx="6.5" ry="4.2" stroke-width="1.49" fill="none"/>
<ellipse cx="862.3" cy="1103.3" rx="3.2" ry="2.0" stroke-width="1.26" fill="none"/>
<ellipse cx="1022.5" cy="941.0" rx="48.0" ry="29.5" stroke-width="1.49" fill="none"/>
<ellipse cx="1022.5" cy="938.5" rx="43.2" ry="25.4" stroke-width="1.26" fill="none"/>
<ellipse cx="1022.5" cy="936.0" rx="37.4" ry="20.6" stroke-width="1.49" fill="none"/>
<path transform="translate(1022.5,937.2) scale(0.60)" d="M-4,-14 l0,-4 l8,0 l0,4 q8,2 8,9 l7,0 l0,7 l-8,0 q-2,5 -7,6 l0,6 l-8,0 l0,-6 q-6,-1 -7,-6 l-8,0 l0,-7 l7,0 q0,-7 8,-9z" stroke-width="2.02" fill="none"/>
<ellipse cx="1039.3" cy="924.8" rx="3.2" ry="2.6" stroke-width="1.15" fill="none"/>
<ellipse cx="863.8" cy="1030.0" rx="54.4" ry="31.0" stroke-width="1.49" fill="none"/>
<ellipse cx="863.8" cy="1027.5" rx="49.0" ry="26.7" stroke-width="1.26" fill="none"/>
<ellipse cx="863.8" cy="1025.0" rx="42.4" ry="21.7" stroke-width="1.49" fill="none"/>
<path transform="translate(863.8,1025.6) scale(0.67)" d="M-4,-14 l0,-4 l8,0 l0,4 q8,2 8,9 l7,0 l0,7 l-8,0 q-2,5 -7,6 l0,6 l-8,0 l0,-6 q-6,-1 -7,-6 l-8,0 l0,-7 l7,0 q0,-7 8,-9z" stroke-width="1.78" fill="none"/>
<ellipse cx="882.8" cy="1013.0" rx="3.2" ry="2.6" stroke-width="1.15" fill="none"/>
<ellipse cx="871.4" cy="929.5" rx="14.0" ry="5.5" stroke-width="1.61" fill="none" transform="rotate(-30.0 871.4 929.5)"/>
<ellipse cx="871.4" cy="929.5" rx="10.0" ry="3.0" stroke-width="1.15" fill="none" transform="rotate(-30.0 871.4 929.5)"/>
<ellipse cx="1016.5" cy="1015.7" rx="14.0" ry="5.5" stroke-width="1.61" fill="none" transform="rotate(-30.0 1016.5 1015.7)"/>
<ellipse cx="1016.5" cy="1015.7" rx="10.0" ry="3.0" stroke-width="1.15" fill="none" transform="rotate(-30.0 1016.5 1015.7)"/>
<polygon points="1048.8,1221.6 1374.5,1032.8 1534.3,1126.1 1210.6,1312.9" stroke-width="1.61" fill="none"/>
<polyline points="1379.3,1035.6 1382.3,1030.4 1524.5,1113.5 1521.5,1118.6" stroke-width="1.26" fill="none"/>
<line x1="1381.1" y1="1032.6" x2="1523.3" y2="1115.6" stroke-width="1.03"/>
<line x1="1058.9" y1="1222.7" x2="1204.5" y2="1304.9" stroke-width="1.15"/>
<line x1="1224.8" y1="1300.1" x2="1516.1" y2="1132.0" stroke-width="1.15"/>
<path d="M1102.2,1224.0 Q1094.4,1219.5 1102.2,1215.0 L1356.2,1066.3 Q1364.0,1061.8 1371.9,1066.1 L1480.7,1126.0 Q1488.6,1130.3 1480.8,1134.8 L1220.5,1283.5 Q1212.7,1288.0 1204.9,1283.5 Z" stroke-width="1.49" fill="none"/>
<path d="M1114.2,1220.0 Q1108.2,1216.4 1114.3,1212.9 L1350.7,1076.6 Q1356.8,1073.1 1363.0,1076.3 L1468.6,1130.2 Q1474.8,1133.4 1468.7,1136.9 L1222.7,1278.8 Q1216.6,1282.3 1210.7,1278.7 Z" stroke-width="1.15" fill="none"/>
<line x1="1105.5" y1="1219.9" x2="1358.9" y2="1071.7" stroke-width="1.15"/>
<ellipse cx="1365.0" cy="1069.8" rx="6.0" ry="8.0" stroke-width="1.15" fill="none"/>
<ellipse cx="1102.4" cy="1221.5" rx="5.0" ry="7.0" stroke-width="1.15" fill="none" transform="rotate(-30.0 1102.4 1221.5)"/>
<ellipse cx="1480.6" cy="1131.3" rx="5.0" ry="7.0" stroke-width="1.15" fill="none" transform="rotate(30.0 1480.6 1131.3)"/>
<ellipse cx="1372.4" cy="1045.2" rx="6.5" ry="4.2" stroke-width="1.49" fill="none"/>
<ellipse cx="1372.4" cy="1045.2" rx="3.2" ry="2.0" stroke-width="1.26" fill="none"/>
<ellipse cx="1515.6" cy="1127.4" rx="6.5" ry="4.2" stroke-width="1.49" fill="none"/>
<ellipse cx="1515.6" cy="1127.4" rx="3.2" ry="2.0" stroke-width="1.26" fill="none"/>
<ellipse cx="1065.4" cy="1221.6" rx="6.5" ry="4.2" stroke-width="1.49" fill="none"/>
<ellipse cx="1065.4" cy="1221.6" rx="3.2" ry="2.0" stroke-width="1.26" fill="none"/>
<ellipse cx="1210.6" cy="1304.6" rx="6.5" ry="4.2" stroke-width="1.49" fill="none"/>
<ellipse cx="1210.6" cy="1304.6" rx="3.2" ry="2.0" stroke-width="1.26" fill="none"/>
<ellipse cx="1370.4" cy="1140.0" rx="38.4" ry="23.9" stroke-width="1.49" fill="none"/>
<ellipse cx="1370.4" cy="1137.5" rx="34.6" ry="20.6" stroke-width="1.26" fill="none"/>
<ellipse cx="1370.4" cy="1135.0" rx="30.0" ry="16.7" stroke-width="1.49" fill="none"/>
<path transform="translate(1370.4,1136.9) scale(0.48)" d="M-4,-14 l0,-4 l8,0 l0,4 q8,2 8,9 l7,0 l0,7 l-8,0 q-2,5 -7,6 l0,6 l-8,0 l0,-6 q-6,-1 -7,-6 l-8,0 l0,-7 l7,0 q0,-7 8,-9z" stroke-width="2.52" fill="none"/>
<ellipse cx="1383.8" cy="1126.9" rx="3.2" ry="2.6" stroke-width="1.15" fill="none"/>
<ellipse cx="1210.6" cy="1234.0" rx="48.8" ry="29.0" stroke-width="1.49" fill="none"/>
<ellipse cx="1210.6" cy="1231.5" rx="43.9" ry="24.9" stroke-width="1.26" fill="none"/>
<ellipse cx="1210.6" cy="1229.0" rx="38.1" ry="20.3" stroke-width="1.49" fill="none"/>
<path transform="translate(1210.6,1230.1) scale(0.61)" d="M-4,-14 l0,-4 l8,0 l0,4 q8,2 8,9 l7,0 l0,7 l-8,0 q-2,5 -7,6 l0,6 l-8,0 l0,-6 q-6,-1 -7,-6 l-8,0 l0,-7 l7,0 q0,-7 8,-9z" stroke-width="1.98" fill="none"/>
<ellipse cx="1227.7" cy="1218.0" rx="3.2" ry="2.6" stroke-width="1.15" fill="none"/>
<ellipse cx="1218.9" cy="1132.4" rx="14.0" ry="5.5" stroke-width="1.61" fill="none" transform="rotate(-30.0 1218.9 1132.4)"/>
<ellipse cx="1218.9" cy="1132.4" rx="10.0" ry="3.0" stroke-width="1.15" fill="none" transform="rotate(-30.0 1218.9 1132.4)"/>
<ellipse cx="1364.1" cy="1217.4" rx="14.0" ry="5.5" stroke-width="1.61" fill="none" transform="rotate(-30.0 1364.1 1217.4)"/>
<ellipse cx="1364.1" cy="1217.4" rx="10.0" ry="3.0" stroke-width="1.15" fill="none" transform="rotate(-30.0 1364.1 1217.4)"/>
<polygon points="907.7,1136.5 1225.1,953.9 1297.8,995.4 980.3,1178.0" stroke-width="1.61" fill="none"/>
<polyline points="1283.2,1005.8 1283.2,1020.3 992.8,1186.3 992.8,1171.8" stroke-width="1.49" fill="none"/>
<line x1="1225.1" y1="948.0" x2="1297.8" y2="989.5" stroke-width="1.15"/>
<polyline points="1225.1,953.9 1225.1,948.0" stroke-width="1.15" fill="none"/>
<ellipse cx="1223.0" cy="966.4" rx="6.5" ry="4.2" stroke-width="1.49" fill="none"/>
<ellipse cx="1223.0" cy="966.4" rx="3.2" ry="2.0" stroke-width="1.26" fill="none"/>
<ellipse cx="1279.0" cy="999.6" rx="6.5" ry="4.2" stroke-width="1.49" fill="none"/>
<ellipse cx="1279.0" cy="999.6" rx="3.2" ry="2.0" stroke-width="1.26" fill="none"/>
<ellipse cx="924.3" cy="1139.8" rx="6.5" ry="4.2" stroke-width="1.49" fill="none"/>
<ellipse cx="924.3" cy="1139.8" rx="3.2" ry="2.0" stroke-width="1.26" fill="none"/>
<ellipse cx="980.3" cy="1171.8" rx="6.5" ry="4.2" stroke-width="1.49" fill="none"/>
<ellipse cx="980.3" cy="1171.8" rx="3.2" ry="2.0" stroke-width="1.26" fill="none"/>
<ellipse cx="1223.0" cy="1047.3" rx="1.5" ry="2.0" stroke-width="1.15" fill="none"/>
<ellipse cx="1053.0" cy="1144.8" rx="1.5" ry="2.0" stroke-width="1.15" fill="none"/>
<polyline points="1208.5,945.6 1210.0,949.6 889.0,1134.3 887.0,1130.3 1208.5,945.6" stroke-width="1.38" fill="none"/>
<line x1="1205.5" y1="951.6" x2="888.0" y2="1138.3" stroke-width="1.15"/>
<line x1="1204.5" y1="954.6" x2="887.0" y2="1141.3" stroke-width="1.15"/>
<polyline points="1331.0,1012.0 1332.5,1016.0 1007.2,1200.7 1005.2,1196.7 1331.0,1012.0" stroke-width="1.38" fill="none"/>
<line x1="1328.0" y1="1018.0" x2="1006.2" y2="1204.7" stroke-width="1.15"/>
<line x1="1327.0" y1="1021.0" x2="1005.2" y2="1207.7" stroke-width="1.15"/>
<polygon points="247.6,1508.9 304.3,1475.6 771.8,1747.6 717.1,1778.9" stroke-width="1.72" fill="none"/>
<polyline points="247.6,1508.9 247.6,1534.3 717.1,1804.3 717.1,1778.9" stroke-width="1.72" fill="none"/>
<line x1="249.5" y1="1514.8" x2="717.1" y2="1784.7" stroke-width="1.15"/>
<line x1="251.5" y1="1518.7" x2="717.1" y2="1787.9" stroke-width="1.03"/>
<polyline points="717.1,1804.3 726.9,1812.1 726.9,1882.5" stroke-width="1.72" fill="none"/>
<polyline points="771.8,1747.6 771.8,1861.0 726.9,1882.5" stroke-width="1.72" fill="none"/>
<polyline points="257.4,1540.2 257.4,1610.6 726.9,1882.5" stroke-width="1.72" fill="none"/>
<line x1="257.4" y1="1548.0" x2="719.0" y2="1814.1" stroke-width="1.49"/>
<polyline points="269.1,1553.9 269.1,1573.5 265.2,1575.4 271.1,1595.0 269.1,1604.8 719.0,1866.9" stroke-width="1.38" fill="none"/>
<polyline points="257.4,1612.6 715.1,1876.7" stroke-width="1.15" fill="none"/>
<polyline points="374.7,1624.3 382.6,1626.3 609.5,1757.3 613.4,1765.2" stroke-width="1.15" fill="none"/>
<polyline points="719.0,1866.9 715.1,1845.4 722.9,1835.6" stroke-width="1.15" fill="none"/>
<polygon points="366.9,1567.6 410.0,1544.1 672.1,1694.7 627.1,1718.2" stroke-width="2.80" fill="none"/>
<polygon points="372.8,1569.5 410.0,1549.2 664.3,1694.7 627.1,1714.3" stroke-width="1.15" fill="none"/>
<polyline points="709.4,1711.8 698.7,1718.2 700.1,1724.6 710.8,1729.6 727.9,1721.1" stroke-width="1.49" fill="none"/>
<polyline points="363.6,1511.8 351.3,1518.6 354.1,1524.0 363.6,1528.2 377.3,1521.3" stroke-width="1.49" fill="none"/>
<polyline points="331.7,1487.4 347.4,1477.6 347.4,1499.1" stroke-width="1.49" fill="none"/>
<ellipse cx="342.7" cy="1487.4" rx="1.5" ry="1.5" stroke-width="1.38" fill="none"/>
<polyline points="775.8,1741.7 791.4,1733.9 791.4,1780.8 775.8,1790.6" stroke-width="1.49" fill="none"/>
<ellipse cx="787.5" cy="1741.7" rx="1.5" ry="1.5" stroke-width="1.38" fill="none"/>
<ellipse cx="785.5" cy="1776.9" rx="1.5" ry="1.5" stroke-width="1.38" fill="none"/>
<ellipse cx="458.9" cy="1645.8" rx="1.6" ry="1.6" stroke-width="1.15" fill="#000"/>
<ellipse cx="480.4" cy="1653.7" rx="1.6" ry="1.6" stroke-width="1.15" fill="#000"/>
<ellipse cx="503.8" cy="1673.2" rx="1.6" ry="1.6" stroke-width="1.15" fill="#000"/>
<ellipse cx="320.8" cy="1620.4" rx="5.0" ry="8.0" stroke-width="1.49" fill="none" transform="rotate(-20.0 320.8 1620.4)"/>
<ellipse cx="331.7" cy="1610.6" rx="2.5" ry="3.0" stroke-width="1.15" fill="none"/>
<ellipse cx="372.8" cy="1650.5" rx="5.0" ry="8.0" stroke-width="1.49" fill="none" transform="rotate(-20.0 372.8 1650.5)"/>
<ellipse cx="372.8" cy="1634.9" rx="2.5" ry="3.0" stroke-width="1.15" fill="none"/>
<ellipse cx="612.6" cy="1786.7" rx="5.0" ry="8.0" stroke-width="1.49" fill="none" transform="rotate(-20.0 612.6 1786.7)"/>
<ellipse cx="622.4" cy="1776.9" rx="2.5" ry="3.0" stroke-width="1.15" fill="none"/>
<ellipse cx="664.3" cy="1818.0" rx="5.0" ry="8.0" stroke-width="1.49" fill="none" transform="rotate(-20.0 664.3 1818.0)"/>
<ellipse cx="662.3" cy="1804.3" rx="2.5" ry="3.0" stroke-width="1.15" fill="none"/>
<line x1="222.2" y1="1673.2" x2="251.5" y2="1657.6" stroke-width="3.00"/>
<line x1="269.1" y1="1645.8" x2="320.0" y2="1616.5" stroke-width="3.00"/>
<line x1="275.0" y1="1704.5" x2="300.4" y2="1688.9" stroke-width="3.00"/>
<line x1="321.9" y1="1677.1" x2="370.8" y2="1649.8" stroke-width="3.00"/>
<line x1="480.7" y1="1862.7" x2="544.7" y2="1826.7" stroke-width="3.00"/>
<line x1="563.4" y1="1816.0" x2="614.1" y2="1786.7" stroke-width="3.00"/>
<line x1="528.7" y1="1890.7" x2="591.4" y2="1857.4" stroke-width="3.00"/>
<line x1="612.8" y1="1845.4" x2="656.8" y2="1817.3" stroke-width="3.00"/>
<ellipse cx="247.6" cy="1658.5" rx="21.5" ry="26.4" stroke-width="1.49" fill="none" transform="rotate(-18.0 247.6 1658.5)"/>
<ellipse cx="248.6" cy="1658.5" rx="17.2" ry="21.6" stroke-width="1.38" fill="none" transform="rotate(-18.0 248.6 1658.5)"/>
<ellipse cx="249.1" cy="1658.5" rx="15.0" ry="19.0" stroke-width="1.15" fill="none" transform="rotate(-18.0 249.1 1658.5)"/>
<ellipse cx="249.6" cy="1656.5" rx="4.0" ry="5.0" stroke-width="1.15" fill="none"/>
<path d="M244.6,1666.5 q4,6 10,4" stroke-width="1.84" fill="none"/>
<line x1="242.6" y1="1649.5" x2="249.6" y2="1654.5" stroke-width="1.38"/>
<ellipse cx="301.0" cy="1688.5" rx="22.0" ry="25.8" stroke-width="1.49" fill="none" transform="rotate(-18.0 301.0 1688.5)"/>
<ellipse cx="302.0" cy="1688.5" rx="17.6" ry="21.2" stroke-width="1.38" fill="none" transform="rotate(-18.0 302.0 1688.5)"/>
<ellipse cx="302.5" cy="1688.5" rx="15.4" ry="18.6" stroke-width="1.15" fill="none" transform="rotate(-18.0 302.5 1688.5)"/>
<ellipse cx="303.0" cy="1686.5" rx="4.0" ry="5.0" stroke-width="1.15" fill="none"/>
<path d="M298.0,1696.5 q4,6 10,4" stroke-width="1.84" fill="none"/>
<line x1="296.0" y1="1679.5" x2="303.0" y2="1684.5" stroke-width="1.38"/>
<ellipse cx="542.7" cy="1828.7" rx="22.0" ry="26.0" stroke-width="1.49" fill="none" transform="rotate(-18.0 542.7 1828.7)"/>
<ellipse cx="543.7" cy="1828.7" rx="17.6" ry="21.3" stroke-width="1.38" fill="none" transform="rotate(-18.0 543.7 1828.7)"/>
<ellipse cx="544.2" cy="1828.7" rx="15.4" ry="18.7" stroke-width="1.15" fill="none" transform="rotate(-18.0 544.2 1828.7)"/>
<ellipse cx="544.7" cy="1826.7" rx="4.0" ry="5.0" stroke-width="1.15" fill="none"/>
<path d="M539.7,1836.7 q4,6 10,4" stroke-width="1.84" fill="none"/>
<line x1="537.7" y1="1819.7" x2="544.7" y2="1824.7" stroke-width="1.38"/>
<ellipse cx="591.4" cy="1857.4" rx="22.5" ry="26.6" stroke-width="1.49" fill="none" transform="rotate(-18.0 591.4 1857.4)"/>
<ellipse cx="592.4" cy="1857.4" rx="18.0" ry="21.8" stroke-width="1.38" fill="none" transform="rotate(-18.0 592.4 1857.4)"/>
<ellipse cx="592.9" cy="1857.4" rx="15.7" ry="19.2" stroke-width="1.15" fill="none" transform="rotate(-18.0 592.9 1857.4)"/>
<ellipse cx="593.4" cy="1855.4" rx="4.0" ry="5.0" stroke-width="1.15" fill="none"/>
<path d="M588.4,1865.4 q4,6 10,4" stroke-width="1.84" fill="none"/>
<line x1="586.4" y1="1848.4" x2="593.4" y2="1853.4" stroke-width="1.38"/>
<path d="M188.2,1708.1 C186.2,1686.9 194.0,1663.4 207.7,1664.3 C225.3,1665.8 227.3,1698.7 209.7,1703.4" stroke-width="1.61" fill="none"/>
<polyline points="188.2,1708.1 190.1,1710.4 209.7,1703.4" stroke-width="1.49" fill="none"/>
<path d="M190.1,1672.8 C186.2,1679.9 186.2,1696.3 190.1,1708.1" stroke-width="1.26" fill="none"/>
<path d="M197.9,1705.7 C197.9,1691.6 199.9,1684.6 207.7,1682.2" stroke-width="1.26" fill="none"/>
<line x1="203.8" y1="1686.9" x2="202.6" y2="1704.8" stroke-width="1.26"/>
<polyline points="190.9,1671.9 197.9,1669.0 198.7,1672.8 192.1,1676.6" stroke-width="1.15" fill="none"/>
<path d="M239.8,1739.5 C237.8,1719.2 245.6,1696.7 259.3,1697.6 C276.9,1699.0 278.9,1730.5 261.3,1735.0" stroke-width="1.61" fill="none"/>
<polyline points="239.8,1739.5 241.7,1741.7 261.3,1735.0" stroke-width="1.49" fill="none"/>
<path d="M241.7,1705.7 C237.8,1712.5 237.8,1728.2 241.7,1739.5" stroke-width="1.26" fill="none"/>
<path d="M249.5,1737.2 C249.5,1723.7 251.5,1717.0 259.3,1714.7" stroke-width="1.26" fill="none"/>
<line x1="255.4" y1="1719.2" x2="254.2" y2="1736.3" stroke-width="1.26"/>
<polyline points="242.5,1704.8 249.5,1702.1 250.3,1705.7 243.7,1709.3" stroke-width="1.15" fill="none"/>
<path d="M444.0,1899.1 C442.0,1878.7 450.0,1856.0 464.0,1856.9 C482.0,1858.3 484.0,1890.1 466.0,1894.6" stroke-width="1.61" fill="none"/>
<polyline points="444.0,1899.1 446.0,1901.4 466.0,1894.6" stroke-width="1.49" fill="none"/>
<path d="M446.0,1865.1 C442.0,1871.9 442.0,1887.8 446.0,1899.1" stroke-width="1.26" fill="none"/>
<path d="M454.0,1896.9 C454.0,1883.2 456.0,1876.4 464.0,1874.2" stroke-width="1.26" fill="none"/>
<line x1="460.0" y1="1878.7" x2="458.8" y2="1896.0" stroke-width="1.26"/>
<polyline points="446.8,1864.2 454.0,1861.4 454.8,1865.1 448.0,1868.7" stroke-width="1.15" fill="none"/>
<path d="M492.0,1927.1 C490.0,1906.7 498.0,1884.0 512.0,1884.9 C530.0,1886.3 532.0,1918.1 514.0,1922.6" stroke-width="1.61" fill="none"/>
<polyline points="492.0,1927.1 494.0,1929.4 514.0,1922.6" stroke-width="1.49" fill="none"/>
<path d="M494.0,1893.1 C490.0,1899.9 490.0,1915.8 494.0,1927.1" stroke-width="1.26" fill="none"/>
<path d="M502.0,1924.9 C502.0,1911.2 504.0,1904.4 512.0,1902.2" stroke-width="1.26" fill="none"/>
<line x1="508.0" y1="1906.7" x2="506.8" y2="1924.0" stroke-width="1.26"/>
<polyline points="494.8,1892.2 502.0,1889.4 502.8,1893.1 496.0,1896.7" stroke-width="1.15" fill="none"/>
<polyline points="465.9,1368.6 478.2,1361.3 493.1,1370.0 480.9,1376.8 465.9,1368.6" stroke-width="1.49" fill="none"/>
<polyline points="465.9,1368.6 465.9,1383.6 459.1,1387.7 459.1,1438.2 474.1,1446.3 493.1,1434.1 493.1,1370.0" stroke-width="1.49" fill="none"/>
<polyline points="480.9,1376.8 480.9,1391.8 474.1,1397.3 474.1,1446.3" stroke-width="1.38" fill="none"/>
<polyline points="465.9,1383.6 474.1,1387.7 480.9,1383.6" stroke-width="1.15" fill="none"/>
<polyline points="459.1,1387.7 474.1,1397.3" stroke-width="1.15" fill="none"/>
<ellipse cx="460.4" cy="1410.9" rx="3.5" ry="2.8" stroke-width="1.26" fill="none"/>
<ellipse cx="468.6" cy="1420.4" rx="3.5" ry="2.8" stroke-width="1.26" fill="none"/>
<ellipse cx="460.4" cy="1424.5" rx="3.5" ry="2.8" stroke-width="1.26" fill="none"/>
<ellipse cx="468.6" cy="1431.3" rx="3.5" ry="2.8" stroke-width="1.26" fill="none"/>
<polyline points="382.0,1436.9 397.7,1427.5 400.4,1421.8 394.2,1420.8 377.6,1428.4" stroke-width="1.49" fill="#fff"/>
<line x1="385.5" y1="1434.8" x2="383.0" y2="1425.8" stroke-width="1.03"/>
<line x1="388.9" y1="1432.7" x2="386.7" y2="1424.2" stroke-width="1.03"/>
<line x1="392.3" y1="1430.6" x2="390.3" y2="1422.5" stroke-width="1.03"/>
<line x1="395.7" y1="1428.5" x2="394.0" y2="1420.9" stroke-width="1.03"/>
<ellipse cx="376.3" cy="1434.5" rx="7.3" ry="10.5" stroke-width="1.49" fill="#fff" transform="rotate(-27.7 376.3 1434.5)"/>
<polygon points="378.3,1436.1 377.3,1442.6 371.8,1442.9 367.2,1436.6 368.1,1430.1 373.7,1429.8" stroke-width="1.38" fill="#fff"/>
<ellipse cx="371.8" cy="1436.8" rx="4.0" ry="5.8" stroke-width="1.26" fill="none" transform="rotate(-27.7 371.8 1436.8)"/>
<line x1="369.2" y1="1431.7" x2="374.5" y2="1441.9" stroke-width="1.84"/>
<polyline points="463.2,1494.1 504.0,1521.3 573.6,1481.8" stroke-width="1.49" fill="none"/>
<polyline points="463.2,1494.1 482.2,1482.0 482.2,1476.3 528.6,1446.3" stroke-width="1.49" fill="none"/>
<polyline points="528.6,1438.2 573.6,1464.1 573.6,1498.2 528.6,1524.1 528.6,1509.1" stroke-width="1.49" fill="none"/>
<polyline points="528.6,1438.2 528.6,1446.3" stroke-width="1.49" fill="none"/>
<line x1="528.6" y1="1446.3" x2="573.6" y2="1472.0" stroke-width="1.15"/>
<ellipse cx="538.0" cy="1447.0" rx="1.2" ry="1.2" stroke-width="1.15" fill="#000"/>
<ellipse cx="565.0" cy="1462.0" rx="1.2" ry="1.2" stroke-width="1.15" fill="#000"/>
<ellipse cx="560.0" cy="1482.0" rx="1.2" ry="1.2" stroke-width="1.15" fill="#000"/>
<ellipse cx="527.0" cy="1497.0" rx="1.2" ry="1.2" stroke-width="1.15" fill="#000"/>
<ellipse cx="550.0" cy="1512.0" rx="1.2" ry="1.2" stroke-width="1.15" fill="#000"/>
<ellipse cx="565.0" cy="1505.0" rx="1.2" ry="1.2" stroke-width="1.15" fill="#000"/>
<polygon points="779.0,1341.0 822.8,1316.1 1078.9,1464.3 1035.0,1490.4" stroke-width="1.61" fill="none"/>
<ellipse cx="871.9" cy="1385.3" rx="4.3" ry="2.9" stroke-width="1.26" fill="none"/>
<ellipse cx="881.4" cy="1380.0" rx="4.3" ry="2.9" stroke-width="1.26" fill="none"/>
<ellipse cx="891.0" cy="1374.8" rx="4.3" ry="2.9" stroke-width="1.26" fill="none"/>
<ellipse cx="900.6" cy="1369.6" rx="4.3" ry="2.9" stroke-width="1.26" fill="none"/>
<ellipse cx="882.0" cy="1390.5" rx="4.3" ry="2.9" stroke-width="1.26" fill="none"/>
<ellipse cx="891.6" cy="1385.3" rx="4.3" ry="2.9" stroke-width="1.26" fill="none"/>
<ellipse cx="901.2" cy="1380.0" rx="4.3" ry="2.9" stroke-width="1.26" fill="none"/>
<ellipse cx="910.8" cy="1374.8" rx="4.3" ry="2.9" stroke-width="1.26" fill="none"/>
<ellipse cx="901.8" cy="1390.5" rx="4.3" ry="2.9" stroke-width="1.26" fill="none"/>
<ellipse cx="911.4" cy="1385.3" rx="4.3" ry="2.9" stroke-width="1.26" fill="none"/>
<ellipse cx="920.9" cy="1380.0" rx="4.3" ry="2.9" stroke-width="1.26" fill="none"/>
<polygon points="857.7,1379.0 862.7,1376.0 865.7,1381.0 860.7,1384.0" stroke-width="1.26" fill="none"/>
<polygon points="892.8,1395.5 917.7,1381.3 966.3,1409.7 940.2,1424.0" stroke-width="1.38" fill="none"/>
<ellipse cx="950.9" cy="1426.3" rx="4.0" ry="3.0" stroke-width="1.38" fill="none"/>
<ellipse cx="962.7" cy="1419.2" rx="4.0" ry="3.0" stroke-width="1.38" fill="none"/>
<ellipse cx="971.0" cy="1415.7" rx="4.0" ry="3.0" stroke-width="1.38" fill="none"/>
<ellipse cx="969.8" cy="1434.6" rx="4.0" ry="3.0" stroke-width="1.38" fill="none"/>
<ellipse cx="987.6" cy="1427.5" rx="4.0" ry="3.0" stroke-width="1.38" fill="none"/>
<ellipse cx="856.2" cy="1476.0" rx="10.5" ry="6.0" stroke-width="1.61" fill="none"/>
<ellipse cx="856.2" cy="1476.0" rx="5.0" ry="3.0" stroke-width="1.84" fill="none"/>
<polyline points="850.2,1481.0 850.2,1489.0 856.2,1491.0 862.2,1489.0 862.2,1481.0" stroke-width="1.38" fill="none"/>
<polygon points="858.5,1508.5 883.5,1494.2 977.1,1548.2 952.1,1562.4" stroke-width="1.49" fill="none"/>
<polyline points="858.5,1508.5 854.6,1513.1 854.6,1525.4 860.0,1529.3 945.5,1579.4 950.2,1577.1 950.2,1567.8" stroke-width="1.49" fill="none"/>
<polyline points="952.1,1562.4 947.8,1564.0 947.1,1579.4" stroke-width="1.49" fill="none"/>
<polyline points="977.1,1548.2 977.9,1564.0 974.8,1565.5 971.7,1557.8 963.3,1562.4 960.9,1567.8 950.2,1573.2" stroke-width="1.49" fill="none"/>
<polyline points="859.2,1510.8 949.4,1564.0" stroke-width="1.15" fill="none"/>
<polygon points="869.3,1511.6 891.6,1499.2 960.9,1538.5 937.8,1551.6" stroke-width="2.53" fill="none"/>
<polygon points="879.3,1515.8 893.1,1508.1 952.5,1540.8 938.6,1548.6" stroke-width="1.15" fill="none"/>
<polyline points="854.6,1525.4 945.5,1571.7" stroke-width="1.15" fill="none"/>
<polygon points="886.2,1516.2 899.3,1509.3 947.1,1537.8 934.7,1545.5" stroke-width="1.15" fill="#000"/>
<polyline points="897.8,1515.4 903.9,1519.3 900.1,1522.4" stroke="#fff" stroke-width="1.0" fill="none"/>
<polyline points="908.6,1523.9 913.9,1526.2 910.1,1530.1" stroke="#fff" stroke-width="1.0" fill="none"/>
<polyline points="917.8,1530.1 924.0,1527.8 919.3,1533.1" stroke="#fff" stroke-width="1.0" fill="none"/>
<polyline points="927.0,1534.7 936.3,1536.2 931.7,1540.8" stroke="#fff" stroke-width="1.0" fill="none"/>
<polygon points="860.8,1523.3 863.8,1525.1 863.8,1530.3 860.8,1528.3" fill="#000" stroke="none"/>
<polygon points="874.7,1531.4 877.7,1533.2 877.7,1538.4 874.7,1536.4" fill="#000" stroke="none"/>
<polygon points="887.0,1538.6 890.0,1540.4 890.0,1545.6 887.0,1543.6" fill="#000" stroke="none"/>
<polygon points="900.1,1546.3 903.1,1548.1 903.1,1553.3 900.1,1551.3" fill="#000" stroke="none"/>
<polygon points="913.2,1553.9 916.2,1555.7 916.2,1560.9 913.2,1558.9" fill="#000" stroke="none"/>
<polygon points="926.3,1561.6 929.3,1563.4 929.3,1568.6 926.3,1566.6" fill="#000" stroke="none"/>
<polygon points="938.6,1568.8 941.6,1570.6 941.6,1575.8 938.6,1573.8" fill="#000" stroke="none"/>
<line x1="873.1" y1="1510.0" x2="874.6" y2="1512.5" stroke-width="0.92"/>
<line x1="874.7" y1="1509.2" x2="876.2" y2="1511.7" stroke-width="0.92"/>
<line x1="876.2" y1="1508.3" x2="877.7" y2="1510.8" stroke-width="0.92"/>
<line x1="877.7" y1="1507.5" x2="879.2" y2="1510.0" stroke-width="0.92"/>
<line x1="879.3" y1="1506.6" x2="880.8" y2="1509.1" stroke-width="0.92"/>
<line x1="880.8" y1="1505.8" x2="882.3" y2="1508.3" stroke-width="0.92"/>
<line x1="882.4" y1="1504.9" x2="883.9" y2="1507.4" stroke-width="0.92"/>
<line x1="883.9" y1="1504.1" x2="885.4" y2="1506.6" stroke-width="0.92"/>
<line x1="885.4" y1="1503.3" x2="886.9" y2="1505.8" stroke-width="0.92"/>
<line x1="887.0" y1="1502.4" x2="888.5" y2="1504.9" stroke-width="0.92"/>
<line x1="888.5" y1="1501.6" x2="890.0" y2="1504.1" stroke-width="0.92"/>
<line x1="890.1" y1="1500.7" x2="891.6" y2="1503.2" stroke-width="0.92"/>
<polyline points="688.9,1529.6 751.3,1502.0 762.9,1507.8" stroke-width="1.38" fill="none"/>
<polyline points="688.9,1529.6 690.3,1534.0 713.6,1542.7 774.6,1576.1 998.2,1709.7 1012.7,1717.0 1027.2,1712.6 1079.5,1692.3 1075.2,1680.6 1065.0,1677.7" stroke-width="1.49" fill="none"/>
<polyline points="713.6,1536.9 762.9,1516.0 815.2,1543.3 774.6,1564.5" stroke-width="1.15" fill="none"/>
<polyline points="713.6,1536.9 713.6,1542.7" stroke-width="1.15" fill="none"/>
<polyline points="757.1,1506.4 841.4,1552.9" stroke-width="1.84" fill="none"/>
<polyline points="762.9,1504.9 844.3,1549.9" stroke-width="1.15" fill="none"/>
<polyline points="773.1,1558.7 826.8,1538.3 832.6,1545.6 781.8,1570.3 773.1,1558.7" stroke-width="1.38" fill="none"/>
<polyline points="773.1,1558.7 774.6,1570.3 781.8,1570.3" stroke-width="1.15" fill="none"/>
<polyline points="841.4,1552.9 890.7,1581.9 916.9,1597.9 977.9,1632.7 1018.5,1657.4 1065.0,1677.7" stroke-width="1.38" fill="none"/>
<polyline points="844.3,1558.7 886.4,1583.3 918.3,1602.2 980.8,1638.5 1012.7,1657.4 1059.2,1685.0" stroke-width="1.15" fill="none"/>
<polyline points="783.3,1576.1 1006.9,1708.2 1059.2,1685.0" stroke-width="1.26" fill="none"/>
<polyline points="1021.4,1696.6 1066.5,1679.2 1072.3,1686.5 1028.7,1703.9 1021.4,1696.6" stroke-width="1.26" fill="none"/>
<polyline points="1027.2,1703.9 1027.2,1712.6" stroke-width="1.15" fill="none"/>
<polyline points="760.0,1573.2 774.6,1568.8" stroke-width="1.15" fill="none"/>
<polyline points="796.3,1593.5 812.3,1597.9" stroke-width="1.15" fill="none"/>
<polyline points="922.7,1666.1 940.1,1670.5" stroke-width="1.15" fill="none"/>
<polyline points="980.8,1699.5 998.2,1702.4" stroke-width="1.15" fill="none"/>
<ellipse cx="721.7" cy="1554.3" rx="4.0" ry="2.5" stroke-width="1.26" fill="none"/>
<ellipse cx="811.7" cy="1603.7" rx="4.0" ry="2.5" stroke-width="1.26" fill="none"/>
<ellipse cx="937.8" cy="1677.7" rx="4.0" ry="2.5" stroke-width="1.26" fill="none"/>
<ellipse cx="995.3" cy="1711.1" rx="4.0" ry="2.5" stroke-width="1.26" fill="none"/>
<ellipse cx="1076.6" cy="1692.3" rx="4.0" ry="2.5" stroke-width="1.26" fill="none"/>
<ellipse cx="935.8" cy="1612.4" rx="1.3" ry="1.3" stroke-width="1.15" fill="#000"/>
<ellipse cx="945.9" cy="1615.3" rx="1.3" ry="1.3" stroke-width="1.15" fill="#000"/>
<ellipse cx="1046.1" cy="1689.4" rx="1.3" ry="1.3" stroke-width="1.15" fill="#000"/>
<polyline points="845.9,1769.8 830.1,1761.4 823.9,1762.0 826.2,1767.8 840.9,1778.0" stroke-width="1.49" fill="#fff"/>
<line x1="842.3" y1="1767.9" x2="835.9" y2="1774.6" stroke-width="1.03"/>
<line x1="838.8" y1="1766.0" x2="832.6" y2="1772.3" stroke-width="1.03"/>
<line x1="835.2" y1="1764.2" x2="829.3" y2="1770.0" stroke-width="1.03"/>
<line x1="831.7" y1="1762.3" x2="826.0" y2="1767.7" stroke-width="1.03"/>
<ellipse cx="846.8" cy="1776.0" rx="7.3" ry="10.5" stroke-width="1.49" fill="#fff" transform="rotate(-148.6 846.8 1776.0)"/>
<polygon points="847.1,1773.4 853.2,1770.9 856.3,1775.5 853.3,1782.6 847.2,1785.2 844.1,1780.6" stroke-width="1.38" fill="#fff"/>
<ellipse cx="851.1" cy="1778.6" rx="4.0" ry="5.8" stroke-width="1.26" fill="none" transform="rotate(-148.6 851.1 1778.6)"/>
<line x1="848.1" y1="1783.5" x2="854.1" y2="1773.6" stroke-width="1.84"/>
<line x1="786.0" y1="1742.4" x2="821.0" y2="1761.6" stroke-width="3.20"/>
<polyline points="906.1,1773.4 908.8,1771.2 912.5,1771.2 921.6,1779.2 920.3,1781.4 914.4,1780.6 919.5,1787.5 919.5,1795.2 924.5,1788.8 925.6,1784.6 946.7,1772.0 949.1,1771.5 952.6,1775.2 956.0,1774.2 958.7,1767.7 963.5,1765.3 964.8,1764.0 964.3,1757.6 966.2,1754.7 979.5,1747.2 981.6,1746.1 984.8,1746.9 984.8,1765.1 914.7,1805.1 910.4,1805.4 908.0,1803.0 908.5,1799.2 914.1,1798.2 914.1,1792.6 906.1,1784.3 906.1,1773.4" stroke-width="1.72" fill="none"/>
<polyline points="908.5,1773.1 919.2,1781.1" stroke-width="1.15" fill="none"/>
<polyline points="912.5,1771.5 917.6,1777.4" stroke-width="1.03" fill="none"/>
<polyline points="914.1,1792.6 914.7,1805.1" stroke-width="1.38" fill="none"/>
<ellipse cx="979.5" cy="1757.6" rx="1.5" ry="1.8" stroke-width="1.15" fill="#000"/>
<ellipse cx="970.4" cy="1762.9" rx="1.6" ry="1.9" stroke-width="1.15" fill="none"/>
</g></svg></body></html>
